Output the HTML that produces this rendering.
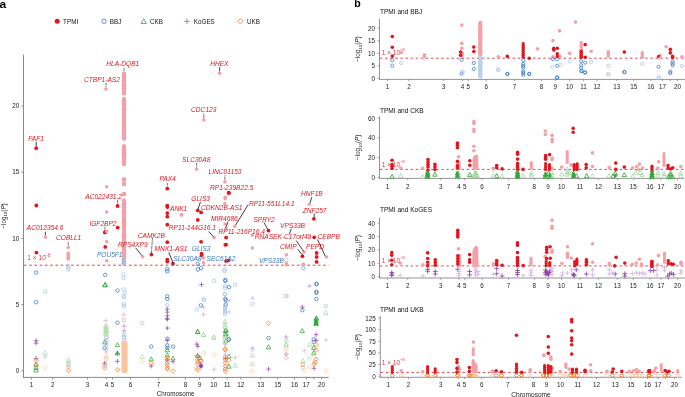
<!DOCTYPE html>
<html><head><meta charset="utf-8"><style>
html,body{margin:0;padding:0;background:#fff;width:685px;height:397px;overflow:hidden}
svg{display:block;will-change:transform;filter:blur(0.3px)}
text{font-family:"Liberation Sans",sans-serif}
</style></head><body>
<svg width="685" height="397" viewBox="0 0 685 397" font-family="Liberation Sans, sans-serif">
<rect width="685" height="397" fill="#fff"/>
<text x="0" y="7.7" font-size="10.9" font-weight="bold" fill="#000" transform="translate(-0.6,0) scale(1.1,1)">a</text>
<circle cx="57.2" cy="21.3" r="2.5" fill="#e3141c"/>
<text x="63.1" y="23.6" font-size="6.3" fill="#111" text-anchor="start">TPMI</text>
<circle cx="104.0" cy="21.3" r="2.2" fill="none" stroke="#3a78c2" stroke-width="0.8"/>
<text x="109.8" y="23.6" font-size="6.3" fill="#111" text-anchor="start">BBJ</text>
<path d="M143.7 18.7L146.3 23.5L141.1 23.5Z" fill="none" stroke="#34a33a" stroke-width="0.8" stroke-linejoin="round"/>
<text x="150" y="23.6" font-size="6.3" fill="#111" text-anchor="start">CKB</text>
<path d="M184.1 21.3H189.7M186.9 18.5V24.1" stroke="#a35cc0" stroke-width="0.8"/>
<text x="193.8" y="23.6" font-size="6.3" fill="#111" text-anchor="start">KoGES</text>
<path d="M240.4 18.7L243.0 21.3L240.4 23.9L237.8 21.3Z" fill="none" stroke="#f0782a" stroke-width="0.8" stroke-linejoin="round"/>
<text x="247" y="23.6" font-size="6.3" fill="#111" text-anchor="start">UKB</text>
<line x1="23.5" y1="54.6" x2="23.5" y2="377.8" stroke="#7a7a7a" stroke-width="0.9"/>
<line x1="23.1" y1="377.4" x2="328.7" y2="377.4" stroke="#7a7a7a" stroke-width="0.9"/>
<line x1="21.3" y1="370.8" x2="23.5" y2="370.8" stroke="#7a7a7a" stroke-width="0.8"/>
<text x="19.3" y="373.0" font-size="6.3" fill="#1e1e1e" text-anchor="end">0</text>
<line x1="21.3" y1="304.6" x2="23.5" y2="304.6" stroke="#7a7a7a" stroke-width="0.8"/>
<text x="19.3" y="306.8" font-size="6.3" fill="#1e1e1e" text-anchor="end">5</text>
<line x1="21.3" y1="238.4" x2="23.5" y2="238.4" stroke="#7a7a7a" stroke-width="0.8"/>
<text x="19.3" y="240.6" font-size="6.3" fill="#1e1e1e" text-anchor="end">10</text>
<line x1="21.3" y1="172.20000000000002" x2="23.5" y2="172.20000000000002" stroke="#7a7a7a" stroke-width="0.8"/>
<text x="19.3" y="174.4" font-size="6.3" fill="#1e1e1e" text-anchor="end">15</text>
<line x1="21.3" y1="106.0" x2="23.5" y2="106.0" stroke="#7a7a7a" stroke-width="0.8"/>
<text x="19.3" y="108.2" font-size="6.3" fill="#1e1e1e" text-anchor="end">20</text>
<line x1="31.4" y1="377.4" x2="31.4" y2="379.5" stroke="#7a7a7a" stroke-width="0.8"/>
<text x="31.4" y="386.8" font-size="6.3" fill="#1e1e1e" text-anchor="middle">1</text>
<line x1="52.7" y1="377.4" x2="52.7" y2="379.5" stroke="#7a7a7a" stroke-width="0.8"/>
<text x="52.7" y="386.8" font-size="6.3" fill="#1e1e1e" text-anchor="middle">2</text>
<line x1="87.5" y1="377.4" x2="87.5" y2="379.5" stroke="#7a7a7a" stroke-width="0.8"/>
<text x="87.5" y="386.8" font-size="6.3" fill="#1e1e1e" text-anchor="middle">3</text>
<line x1="106.4" y1="377.4" x2="106.4" y2="379.5" stroke="#7a7a7a" stroke-width="0.8"/>
<text x="106.4" y="386.8" font-size="6.3" fill="#1e1e1e" text-anchor="middle">4</text>
<line x1="112.5" y1="377.4" x2="112.5" y2="379.5" stroke="#7a7a7a" stroke-width="0.8"/>
<text x="112.5" y="386.8" font-size="6.3" fill="#1e1e1e" text-anchor="middle">5</text>
<line x1="130.5" y1="377.4" x2="130.5" y2="379.5" stroke="#7a7a7a" stroke-width="0.8"/>
<text x="130.5" y="386.8" font-size="6.3" fill="#1e1e1e" text-anchor="middle">6</text>
<line x1="158.4" y1="377.4" x2="158.4" y2="379.5" stroke="#7a7a7a" stroke-width="0.8"/>
<text x="158.4" y="386.8" font-size="6.3" fill="#1e1e1e" text-anchor="middle">7</text>
<line x1="185.4" y1="377.4" x2="185.4" y2="379.5" stroke="#7a7a7a" stroke-width="0.8"/>
<text x="185.4" y="386.8" font-size="6.3" fill="#1e1e1e" text-anchor="middle">8</text>
<line x1="199.5" y1="377.4" x2="199.5" y2="379.5" stroke="#7a7a7a" stroke-width="0.8"/>
<text x="199.5" y="386.8" font-size="6.3" fill="#1e1e1e" text-anchor="middle">9</text>
<line x1="213.8" y1="377.4" x2="213.8" y2="379.5" stroke="#7a7a7a" stroke-width="0.8"/>
<text x="213.8" y="386.8" font-size="6.3" fill="#1e1e1e" text-anchor="middle">10</text>
<line x1="227.2" y1="377.4" x2="227.2" y2="379.5" stroke="#7a7a7a" stroke-width="0.8"/>
<text x="227.2" y="386.8" font-size="6.3" fill="#1e1e1e" text-anchor="middle">11</text>
<line x1="240.8" y1="377.4" x2="240.8" y2="379.5" stroke="#7a7a7a" stroke-width="0.8"/>
<text x="240.8" y="386.8" font-size="6.3" fill="#1e1e1e" text-anchor="middle">12</text>
<line x1="260.8" y1="377.4" x2="260.8" y2="379.5" stroke="#7a7a7a" stroke-width="0.8"/>
<text x="260.8" y="386.8" font-size="6.3" fill="#1e1e1e" text-anchor="middle">13</text>
<line x1="277.7" y1="377.4" x2="277.7" y2="379.5" stroke="#7a7a7a" stroke-width="0.8"/>
<text x="277.7" y="386.8" font-size="6.3" fill="#1e1e1e" text-anchor="middle">15</text>
<line x1="294.6" y1="377.4" x2="294.6" y2="379.5" stroke="#7a7a7a" stroke-width="0.8"/>
<text x="294.6" y="386.8" font-size="6.3" fill="#1e1e1e" text-anchor="middle">16</text>
<line x1="306.3" y1="377.4" x2="306.3" y2="379.5" stroke="#7a7a7a" stroke-width="0.8"/>
<text x="306.3" y="386.8" font-size="6.3" fill="#1e1e1e" text-anchor="middle">17</text>
<line x1="313.9" y1="377.4" x2="313.9" y2="379.5" stroke="#7a7a7a" stroke-width="0.8"/>
<line x1="321.6" y1="377.4" x2="321.6" y2="379.5" stroke="#7a7a7a" stroke-width="0.8"/>
<text x="321.6" y="386.8" font-size="6.3" fill="#1e1e1e" text-anchor="middle">20</text>
<text x="175.6" y="396.2" font-size="6.3" fill="#1e1e1e" text-anchor="middle">Chromosome</text>
<text x="5.8" y="216" font-size="6.3" fill="#1e1e1e" text-anchor="middle" transform="rotate(-90 5.8 216)">−log<tspan font-size="4.4" dy="1.6">10</tspan><tspan dy="-1.6">(</tspan><tspan font-style="italic">P</tspan>)</text>
<line x1="23.9" y1="265.2" x2="328.9" y2="265.2" stroke="#ea3b43" stroke-width="1.0" stroke-dasharray="2.6 2.65"/>
<text x="27.3" y="260.4" font-size="6.6" fill="#e8404a" text-anchor="start">1 × 10</text>
<text x="45.3" y="256.6" font-size="4.5" fill="#e8404a" text-anchor="start">−8</text>
<rect x="122.15" y="73.70" width="3.70" height="19.70" fill="#f3a0a6"/>
<circle cx="124.00" cy="73.70" r="2.2" fill="#f3a0a6"/>
<circle cx="124.00" cy="75.34" r="2.2" fill="#f3a0a6"/>
<circle cx="124.00" cy="76.98" r="2.2" fill="#f3a0a6"/>
<circle cx="124.00" cy="78.62" r="2.2" fill="#f3a0a6"/>
<circle cx="124.00" cy="80.27" r="2.2" fill="#f3a0a6"/>
<circle cx="124.00" cy="81.91" r="2.2" fill="#f3a0a6"/>
<circle cx="124.00" cy="83.55" r="2.2" fill="#f3a0a6"/>
<circle cx="124.00" cy="85.19" r="2.2" fill="#f3a0a6"/>
<circle cx="124.00" cy="86.83" r="2.2" fill="#f3a0a6"/>
<circle cx="124.00" cy="88.48" r="2.2" fill="#f3a0a6"/>
<circle cx="124.00" cy="90.12" r="2.2" fill="#f3a0a6"/>
<circle cx="124.00" cy="91.76" r="2.2" fill="#f3a0a6"/>
<circle cx="124.00" cy="93.40" r="2.2" fill="#f3a0a6"/>
<rect x="122.15" y="99.00" width="3.70" height="39.60" fill="#f3a0a6"/>
<circle cx="124.00" cy="99.00" r="2.2" fill="#f3a0a6"/>
<circle cx="124.00" cy="100.72" r="2.2" fill="#f3a0a6"/>
<circle cx="124.00" cy="102.44" r="2.2" fill="#f3a0a6"/>
<circle cx="124.00" cy="104.17" r="2.2" fill="#f3a0a6"/>
<circle cx="124.00" cy="105.89" r="2.2" fill="#f3a0a6"/>
<circle cx="124.00" cy="107.61" r="2.2" fill="#f3a0a6"/>
<circle cx="124.00" cy="109.33" r="2.2" fill="#f3a0a6"/>
<circle cx="124.00" cy="111.05" r="2.2" fill="#f3a0a6"/>
<circle cx="124.00" cy="112.77" r="2.2" fill="#f3a0a6"/>
<circle cx="124.00" cy="114.50" r="2.2" fill="#f3a0a6"/>
<circle cx="124.00" cy="116.22" r="2.2" fill="#f3a0a6"/>
<circle cx="124.00" cy="117.94" r="2.2" fill="#f3a0a6"/>
<circle cx="124.00" cy="119.66" r="2.2" fill="#f3a0a6"/>
<circle cx="124.00" cy="121.38" r="2.2" fill="#f3a0a6"/>
<circle cx="124.00" cy="123.10" r="2.2" fill="#f3a0a6"/>
<circle cx="124.00" cy="124.83" r="2.2" fill="#f3a0a6"/>
<circle cx="124.00" cy="126.55" r="2.2" fill="#f3a0a6"/>
<circle cx="124.00" cy="128.27" r="2.2" fill="#f3a0a6"/>
<circle cx="124.00" cy="129.99" r="2.2" fill="#f3a0a6"/>
<circle cx="124.00" cy="131.71" r="2.2" fill="#f3a0a6"/>
<circle cx="124.00" cy="133.43" r="2.2" fill="#f3a0a6"/>
<circle cx="124.00" cy="135.16" r="2.2" fill="#f3a0a6"/>
<circle cx="124.00" cy="136.88" r="2.2" fill="#f3a0a6"/>
<circle cx="124.00" cy="138.60" r="2.2" fill="#f3a0a6"/>
<rect x="122.15" y="146.10" width="3.70" height="17.90" fill="#f3a0a6"/>
<circle cx="124.00" cy="146.10" r="2.2" fill="#f3a0a6"/>
<circle cx="124.00" cy="147.73" r="2.2" fill="#f3a0a6"/>
<circle cx="124.00" cy="149.35" r="2.2" fill="#f3a0a6"/>
<circle cx="124.00" cy="150.98" r="2.2" fill="#f3a0a6"/>
<circle cx="124.00" cy="152.61" r="2.2" fill="#f3a0a6"/>
<circle cx="124.00" cy="154.24" r="2.2" fill="#f3a0a6"/>
<circle cx="124.00" cy="155.86" r="2.2" fill="#f3a0a6"/>
<circle cx="124.00" cy="157.49" r="2.2" fill="#f3a0a6"/>
<circle cx="124.00" cy="159.12" r="2.2" fill="#f3a0a6"/>
<circle cx="124.00" cy="160.75" r="2.2" fill="#f3a0a6"/>
<circle cx="124.00" cy="162.37" r="2.2" fill="#f3a0a6"/>
<circle cx="124.00" cy="164.00" r="2.2" fill="#f3a0a6"/>
<rect x="122.15" y="179.50" width="3.70" height="0.00" fill="#f3a0a6"/>
<circle cx="124.00" cy="179.50" r="2.2" fill="#f3a0a6"/>
<circle cx="124.00" cy="179.50" r="2.2" fill="#f3a0a6"/>
<rect x="122.15" y="184.00" width="3.70" height="0.00" fill="#f3a0a6"/>
<circle cx="124.00" cy="184.00" r="2.2" fill="#f3a0a6"/>
<circle cx="124.00" cy="184.00" r="2.2" fill="#f3a0a6"/>
<rect x="122.15" y="194.00" width="3.70" height="0.00" fill="#f3a0a6"/>
<circle cx="124.00" cy="194.00" r="2.2" fill="#f3a0a6"/>
<circle cx="124.00" cy="194.00" r="2.2" fill="#f3a0a6"/>
<rect x="122.15" y="200.40" width="3.70" height="63.10" fill="#f3a0a6"/>
<circle cx="124.00" cy="200.40" r="2.2" fill="#f3a0a6"/>
<circle cx="124.00" cy="202.11" r="2.2" fill="#f3a0a6"/>
<circle cx="124.00" cy="203.81" r="2.2" fill="#f3a0a6"/>
<circle cx="124.00" cy="205.52" r="2.2" fill="#f3a0a6"/>
<circle cx="124.00" cy="207.22" r="2.2" fill="#f3a0a6"/>
<circle cx="124.00" cy="208.93" r="2.2" fill="#f3a0a6"/>
<circle cx="124.00" cy="210.63" r="2.2" fill="#f3a0a6"/>
<circle cx="124.00" cy="212.34" r="2.2" fill="#f3a0a6"/>
<circle cx="124.00" cy="214.04" r="2.2" fill="#f3a0a6"/>
<circle cx="124.00" cy="215.75" r="2.2" fill="#f3a0a6"/>
<circle cx="124.00" cy="217.45" r="2.2" fill="#f3a0a6"/>
<circle cx="124.00" cy="219.16" r="2.2" fill="#f3a0a6"/>
<circle cx="124.00" cy="220.86" r="2.2" fill="#f3a0a6"/>
<circle cx="124.00" cy="222.57" r="2.2" fill="#f3a0a6"/>
<circle cx="124.00" cy="224.28" r="2.2" fill="#f3a0a6"/>
<circle cx="124.00" cy="225.98" r="2.2" fill="#f3a0a6"/>
<circle cx="124.00" cy="227.69" r="2.2" fill="#f3a0a6"/>
<circle cx="124.00" cy="229.39" r="2.2" fill="#f3a0a6"/>
<circle cx="124.00" cy="231.10" r="2.2" fill="#f3a0a6"/>
<circle cx="124.00" cy="232.80" r="2.2" fill="#f3a0a6"/>
<circle cx="124.00" cy="234.51" r="2.2" fill="#f3a0a6"/>
<circle cx="124.00" cy="236.21" r="2.2" fill="#f3a0a6"/>
<circle cx="124.00" cy="237.92" r="2.2" fill="#f3a0a6"/>
<circle cx="124.00" cy="239.62" r="2.2" fill="#f3a0a6"/>
<circle cx="124.00" cy="241.33" r="2.2" fill="#f3a0a6"/>
<circle cx="124.00" cy="243.04" r="2.2" fill="#f3a0a6"/>
<circle cx="124.00" cy="244.74" r="2.2" fill="#f3a0a6"/>
<circle cx="124.00" cy="246.45" r="2.2" fill="#f3a0a6"/>
<circle cx="124.00" cy="248.15" r="2.2" fill="#f3a0a6"/>
<circle cx="124.00" cy="249.86" r="2.2" fill="#f3a0a6"/>
<circle cx="124.00" cy="251.56" r="2.2" fill="#f3a0a6"/>
<circle cx="124.00" cy="253.27" r="2.2" fill="#f3a0a6"/>
<circle cx="124.00" cy="254.97" r="2.2" fill="#f3a0a6"/>
<circle cx="124.00" cy="256.68" r="2.2" fill="#f3a0a6"/>
<circle cx="124.00" cy="258.38" r="2.2" fill="#f3a0a6"/>
<circle cx="124.00" cy="260.09" r="2.2" fill="#f3a0a6"/>
<circle cx="124.00" cy="261.79" r="2.2" fill="#f3a0a6"/>
<circle cx="124.00" cy="263.50" r="2.2" fill="#f3a0a6"/>
<rect x="66.85" y="253.40" width="2.90" height="5.60" fill="#f3a0a6"/>
<circle cx="68.30" cy="253.40" r="1.8" fill="#f3a0a6"/>
<circle cx="68.30" cy="255.27" r="1.8" fill="#f3a0a6"/>
<circle cx="68.30" cy="257.13" r="1.8" fill="#f3a0a6"/>
<circle cx="68.30" cy="259.00" r="1.8" fill="#f3a0a6"/>
<circle cx="36.2" cy="148.2" r="1.9" fill="#e3141c"/>
<circle cx="36.3" cy="205.5" r="1.9" fill="#e3141c"/>
<circle cx="36.4" cy="252.6" r="1.9" fill="#e3141c"/>
<circle cx="117.6" cy="206.0" r="1.9" fill="#e3141c"/>
<circle cx="117.7" cy="227.6" r="1.9" fill="#e3141c"/>
<circle cx="104.9" cy="232.4" r="1.9" fill="#e3141c"/>
<circle cx="105.2" cy="232.3" r="1.9" fill="#e3141c"/>
<circle cx="105.2" cy="246.9" r="1.9" fill="#e3141c"/>
<circle cx="167.3" cy="188.7" r="1.9" fill="#e3141c"/>
<circle cx="167.3" cy="205.6" r="1.9" fill="#e3141c"/>
<circle cx="167.3" cy="207.0" r="1.9" fill="#e3141c"/>
<circle cx="167.3" cy="213.1" r="1.9" fill="#e3141c"/>
<circle cx="167.3" cy="216.7" r="1.9" fill="#e3141c"/>
<circle cx="167.3" cy="224.7" r="1.9" fill="#e3141c"/>
<circle cx="167.3" cy="242.2" r="1.9" fill="#e3141c"/>
<circle cx="167.3" cy="259.6" r="1.9" fill="#e3141c"/>
<circle cx="167.3" cy="261.6" r="1.9" fill="#e3141c"/>
<circle cx="151.4" cy="254.6" r="1.9" fill="#e3141c"/>
<circle cx="173.0" cy="263.6" r="1.9" fill="#e3141c"/>
<circle cx="197.8" cy="210.4" r="1.9" fill="#e3141c"/>
<circle cx="201.1" cy="212.4" r="1.9" fill="#e3141c"/>
<circle cx="197.8" cy="219.9" r="1.9" fill="#e3141c"/>
<circle cx="201.1" cy="241.8" r="1.9" fill="#e3141c"/>
<circle cx="201.6" cy="253.6" r="1.9" fill="#e3141c"/>
<circle cx="201.6" cy="255.3" r="1.9" fill="#e3141c"/>
<circle cx="228.6" cy="192.7" r="1.9" fill="#e3141c"/>
<circle cx="229.0" cy="193.0" r="1.9" fill="#e3141c"/>
<circle cx="226.1" cy="237.6" r="1.9" fill="#e3141c"/>
<circle cx="226.1" cy="244.6" r="1.9" fill="#e3141c"/>
<circle cx="225.3" cy="244.8" r="1.9" fill="#e3141c"/>
<circle cx="226.1" cy="261.1" r="1.9" fill="#e3141c"/>
<circle cx="228.3" cy="260.4" r="1.9" fill="#e3141c"/>
<circle cx="268.5" cy="230.6" r="1.9" fill="#e3141c"/>
<circle cx="313.9" cy="218.8" r="1.9" fill="#e3141c"/>
<circle cx="314.2" cy="237.3" r="1.9" fill="#e3141c"/>
<circle cx="302.4" cy="256.2" r="1.9" fill="#e3141c"/>
<circle cx="316.6" cy="252.9" r="1.9" fill="#e3141c"/>
<circle cx="316.6" cy="257.0" r="1.9" fill="#e3141c"/>
<circle cx="316.6" cy="261.9" r="1.9" fill="#e3141c"/>
<circle cx="106.0" cy="89.0" r="1.8" fill="#f3a0a6"/>
<circle cx="219.6" cy="73.3" r="1.8" fill="#f3a0a6"/>
<circle cx="203.8" cy="119.9" r="1.8" fill="#f3a0a6"/>
<circle cx="196.6" cy="169.2" r="1.8" fill="#f3a0a6"/>
<circle cx="224.9" cy="181.9" r="1.8" fill="#f3a0a6"/>
<circle cx="225.2" cy="197.3" r="1.8" fill="#f3a0a6"/>
<circle cx="225.2" cy="198.6" r="1.8" fill="#f3a0a6"/>
<circle cx="224.8" cy="203.6" r="1.8" fill="#f3a0a6"/>
<circle cx="106.7" cy="186.8" r="1.8" fill="#f3a0a6"/>
<circle cx="106.7" cy="212.0" r="1.8" fill="#f3a0a6"/>
<circle cx="106.7" cy="231.6" r="1.8" fill="#f3a0a6"/>
<circle cx="106.7" cy="241.8" r="1.8" fill="#f3a0a6"/>
<circle cx="106.7" cy="260.7" r="1.8" fill="#f3a0a6"/>
<circle cx="45.4" cy="237.1" r="1.8" fill="#f3a0a6"/>
<circle cx="68.3" cy="247.4" r="1.8" fill="#f3a0a6"/>
<circle cx="181.6" cy="214.6" r="1.8" fill="#f3a0a6"/>
<circle cx="142.7" cy="256.8" r="1.8" fill="#f3a0a6"/>
<circle cx="214.0" cy="237.6" r="1.8" fill="#f3a0a6"/>
<circle cx="181.5" cy="214.9" r="1.8" fill="#f3a0a6"/>
<circle cx="225.0" cy="224.0" r="1.8" fill="#f3a0a6"/>
<circle cx="234.7" cy="226.2" r="1.8" fill="#f3a0a6"/>
<circle cx="226.1" cy="228.5" r="1.8" fill="#f3a0a6"/>
<circle cx="203.4" cy="258.1" r="1.8" fill="#f3a0a6"/>
<circle cx="203.4" cy="262.7" r="1.8" fill="#f3a0a6"/>
<circle cx="252.4" cy="235.3" r="1.8" fill="#f3a0a6"/>
<circle cx="252.4" cy="248.0" r="1.8" fill="#f3a0a6"/>
<circle cx="309.3" cy="204.2" r="1.8" fill="#f3a0a6"/>
<circle cx="304.0" cy="252.1" r="1.8" fill="#f3a0a6"/>
<circle cx="326.5" cy="257.0" r="1.8" fill="#f3a0a6"/>
<circle cx="286.4" cy="254.9" r="1.8" fill="#f3a0a6"/>
<circle cx="286.4" cy="263.5" r="1.8" fill="#f3a0a6"/>
<circle cx="286.4" cy="265.0" r="1.8" fill="#f3a0a6"/>
<circle cx="303.4" cy="264.4" r="1.8" fill="#f3a0a6"/>
<circle cx="303.1" cy="264.5" r="1.8" fill="#f3a0a6"/>
<text x="106.3" y="66.0" font-size="6.6" fill="#e3141c" text-anchor="start" font-style="italic">HLA-DQB1</text>
<text x="84.0" y="81.7" font-size="6.6" fill="#e3141c" text-anchor="start" font-style="italic">CTBP1-AS2</text>
<text x="210.2" y="65.8" font-size="6.6" fill="#e3141c" text-anchor="start" font-style="italic">HHEX</text>
<text x="191.1" y="112.0" font-size="6.6" fill="#e3141c" text-anchor="start" font-style="italic">CDC123</text>
<text x="28.3" y="141.2" font-size="6.6" fill="#e3141c" text-anchor="start" font-style="italic">FAF1</text>
<text x="182.1" y="161.9" font-size="6.6" fill="#e3141c" text-anchor="start" font-style="italic">SLC30A8</text>
<text x="208.6" y="174.4" font-size="6.6" fill="#e3141c" text-anchor="start" font-style="italic">LINC01153</text>
<text x="210.1" y="189.9" font-size="6.6" fill="#e3141c" text-anchor="start" font-style="italic">RP1-239B22.5</text>
<text x="159.4" y="181.4" font-size="6.6" fill="#e3141c" text-anchor="start" font-style="italic">PAX4</text>
<text x="85.3" y="198.7" font-size="6.6" fill="#e3141c" text-anchor="start" font-style="italic">AC022431.2</text>
<text x="170.0" y="210.8" font-size="6.6" fill="#e3141c" text-anchor="start" font-style="italic">ANK1</text>
<text x="191.3" y="200.8" font-size="6.6" fill="#e3141c" text-anchor="start" font-style="italic">GLIS3</text>
<text x="201.1" y="210.3" font-size="6.6" fill="#e3141c" text-anchor="start" font-style="italic">CDKN2B-AS1</text>
<text x="301.1" y="196.1" font-size="6.6" fill="#e3141c" text-anchor="start" font-style="italic">HNF1B</text>
<text x="302.7" y="212.5" font-size="6.6" fill="#e3141c" text-anchor="start" font-style="italic">ZNF257</text>
<text x="211.0" y="220.6" font-size="6.6" fill="#e3141c" text-anchor="start" font-style="italic">MIR4686</text>
<text x="253.4" y="222.0" font-size="6.6" fill="#e3141c" text-anchor="start" font-style="italic">SPRY2</text>
<text x="89.4" y="225.5" font-size="6.6" fill="#e3141c" text-anchor="start" font-style="italic">IGF2BP2</text>
<text x="26.8" y="230.4" font-size="6.6" fill="#e3141c" text-anchor="start" font-style="italic">AC012354.6</text>
<text x="168.8" y="230.3" font-size="6.6" fill="#e3141c" text-anchor="start" font-style="italic">RP11-144G16.1</text>
<text x="218.5" y="233.7" font-size="6.6" fill="#e3141c" text-anchor="start" font-style="italic">RP11-216P16.4</text>
<text x="280.1" y="228.0" font-size="6.6" fill="#e3141c" text-anchor="start" font-style="italic">VPS33B</text>
<text x="137.8" y="237.6" font-size="6.6" fill="#e3141c" text-anchor="start" font-style="italic">CAMK2B</text>
<text x="56.0" y="240.0" font-size="6.6" fill="#e3141c" text-anchor="start" font-style="italic">COBLL1</text>
<text x="254.8" y="239.3" font-size="6.6" fill="#e3141c" text-anchor="start" font-style="italic">RNASEK-C17orf49</text>
<text x="317.5" y="238.7" font-size="6.6" fill="#e3141c" text-anchor="start" font-style="italic">CEBPB</text>
<text x="118.0" y="246.6" font-size="6.6" fill="#e3141c" text-anchor="start" font-style="italic">RPS4XP9</text>
<text x="154.5" y="251.2" font-size="6.6" fill="#e3141c" text-anchor="start" font-style="italic">MNX1-AS1</text>
<text x="280.1" y="248.6" font-size="6.6" fill="#e3141c" text-anchor="start" font-style="italic">CMIP</text>
<text x="306.0" y="249.4" font-size="6.6" fill="#e3141c" text-anchor="start" font-style="italic">PEPD</text>
<text x="248.9" y="206.1" font-size="6.6" fill="#e3141c" text-anchor="start" font-style="italic">RP11-551L14.1</text>
<text x="96.9" y="256.7" font-size="6.6" fill="#3a78c2" text-anchor="start" font-style="italic">POU5F1</text>
<text x="191.8" y="251.0" font-size="6.6" fill="#3a78c2" text-anchor="start" font-style="italic">GLIS3</text>
<text x="173.3" y="261.1" font-size="6.6" fill="#3a78c2" text-anchor="start" font-style="italic">SLC30A8</text>
<text x="206.5" y="261.1" font-size="6.6" fill="#3a78c2" text-anchor="start" font-style="italic">SEC61A2</text>
<text x="258.9" y="262.7" font-size="6.6" fill="#3a78c2" text-anchor="start" font-style="italic">VPS33B</text>
<line x1="124" y1="67.8" x2="124" y2="71.2" stroke="#111" stroke-width="0.8" stroke-dasharray="0.8 0.5"/>
<line x1="106" y1="83" x2="106" y2="87.1" stroke="#111" stroke-width="0.8" stroke-dasharray="0.8 0.5"/>
<line x1="219.6" y1="67.1" x2="219.6" y2="71.3" stroke="#111" stroke-width="0.8"/>
<line x1="203.8" y1="113.5" x2="203.8" y2="118" stroke="#111" stroke-width="0.8" stroke-dasharray="0.8 0.5"/>
<line x1="36.2" y1="141.9" x2="36.2" y2="146.3" stroke="#111" stroke-width="0.8"/>
<line x1="196.6" y1="163" x2="196.6" y2="167.3" stroke="#111" stroke-width="0.8" stroke-dasharray="0.8 0.5"/>
<line x1="224.9" y1="175.5" x2="224.9" y2="180" stroke="#111" stroke-width="0.8" stroke-dasharray="0.8 0.5"/>
<line x1="167.3" y1="183" x2="167.3" y2="186.8" stroke="#111" stroke-width="0.8" stroke-dasharray="0.8 0.5"/>
<line x1="117.6" y1="199.9" x2="117.6" y2="204.1" stroke="#111" stroke-width="0.8" stroke-dasharray="0.8 0.5"/>
<line x1="104.9" y1="227.1" x2="104.9" y2="230.5" stroke="#111" stroke-width="0.8" stroke-dasharray="0.8 0.5"/>
<line x1="45.4" y1="231.8" x2="45.4" y2="235.2" stroke="#111" stroke-width="0.8"/>
<line x1="68.3" y1="241.6" x2="68.3" y2="245.5" stroke="#111" stroke-width="0.8" stroke-dasharray="0.8 0.5"/>
<line x1="200.4" y1="202.1" x2="198.1" y2="208.9" stroke="#111" stroke-width="0.8"/>
<line x1="208.7" y1="231.5" x2="213.5" y2="236.8" stroke="#111" stroke-width="0.8"/>
<line x1="228" y1="221.7" x2="225.8" y2="227.8" stroke="#111" stroke-width="0.8"/>
<line x1="248.1" y1="204.8" x2="235.7" y2="225" stroke="#111" stroke-width="0.8"/>
<line x1="264" y1="222.5" x2="267.8" y2="229.6" stroke="#111" stroke-width="0.8"/>
<line x1="311.7" y1="197.2" x2="310.1" y2="202.9" stroke="#111" stroke-width="0.8"/>
<line x1="314.2" y1="213.6" x2="314.2" y2="217.3" stroke="#111" stroke-width="0.8"/>
<line x1="291.3" y1="228.8" x2="289.3" y2="234" stroke="#111" stroke-width="0.8"/>
<line x1="297.8" y1="249.3" x2="301.9" y2="254.5" stroke="#111" stroke-width="0.8"/>
<line x1="296.2" y1="240.6" x2="303.6" y2="251.3" stroke="#111" stroke-width="0.8"/>
<line x1="317.5" y1="239.5" x2="325.3" y2="256.2" stroke="#111" stroke-width="0.8"/>
<line x1="152.5" y1="238" x2="151.4" y2="253" stroke="#111" stroke-width="0.8" stroke-dasharray="0.8 0.5"/>
<line x1="135.6" y1="247.8" x2="141.9" y2="255.6" stroke="#111" stroke-width="0.8"/>
<line x1="168.8" y1="252.3" x2="173" y2="262.9" stroke="#111" stroke-width="0.8"/>
<circle cx="36.2" cy="272.5" r="1.75" fill="none" stroke="#3a78c2" stroke-width="0.75"/>
<circle cx="36.2" cy="302.2" r="1.75" fill="none" stroke="#3a78c2" stroke-width="0.75"/>
<circle cx="105.2" cy="274.9" r="1.75" fill="none" stroke="#3a78c2" stroke-width="0.75"/>
<circle cx="117.5" cy="290.6" r="1.75" fill="none" stroke="#3a78c2" stroke-width="0.75"/>
<circle cx="117.5" cy="322.7" r="1.75" fill="none" stroke="#3a78c2" stroke-width="0.75"/>
<circle cx="104.7" cy="347.9" r="1.75" fill="none" stroke="#3a78c2" stroke-width="0.75"/>
<circle cx="151.2" cy="346.6" r="1.75" fill="none" stroke="#3a78c2" stroke-width="0.75"/>
<circle cx="167.3" cy="269.1" r="1.75" fill="none" stroke="#3a78c2" stroke-width="0.75"/>
<circle cx="167.3" cy="271.3" r="1.75" fill="none" stroke="#3a78c2" stroke-width="0.75"/>
<circle cx="167.3" cy="296.3" r="1.75" fill="none" stroke="#3a78c2" stroke-width="0.75"/>
<circle cx="167.3" cy="299.0" r="1.75" fill="none" stroke="#3a78c2" stroke-width="0.75"/>
<circle cx="167.3" cy="338.8" r="1.75" fill="none" stroke="#3a78c2" stroke-width="0.75"/>
<circle cx="167.3" cy="345.3" r="1.75" fill="none" stroke="#3a78c2" stroke-width="0.75"/>
<circle cx="167.3" cy="347.8" r="1.75" fill="none" stroke="#3a78c2" stroke-width="0.75"/>
<circle cx="173.0" cy="346.6" r="1.75" fill="none" stroke="#3a78c2" stroke-width="0.75"/>
<circle cx="197.8" cy="263.9" r="1.75" fill="none" stroke="#3a78c2" stroke-width="0.75"/>
<circle cx="201.1" cy="268.0" r="1.75" fill="none" stroke="#3a78c2" stroke-width="0.75"/>
<circle cx="197.8" cy="269.5" r="1.75" fill="none" stroke="#3a78c2" stroke-width="0.75"/>
<circle cx="225.3" cy="280.0" r="1.75" fill="none" stroke="#3a78c2" stroke-width="0.75"/>
<circle cx="225.3" cy="280.8" r="1.75" fill="none" stroke="#3a78c2" stroke-width="0.75"/>
<circle cx="229.1" cy="287.1" r="1.75" fill="none" stroke="#3a78c2" stroke-width="0.75"/>
<circle cx="225.3" cy="298.9" r="1.75" fill="none" stroke="#3a78c2" stroke-width="0.75"/>
<circle cx="225.8" cy="300.3" r="1.75" fill="none" stroke="#3a78c2" stroke-width="0.75"/>
<circle cx="225.8" cy="304.4" r="1.75" fill="none" stroke="#3a78c2" stroke-width="0.75"/>
<circle cx="200.9" cy="305.4" r="1.75" fill="none" stroke="#3a78c2" stroke-width="0.75"/>
<circle cx="228.8" cy="339.5" r="1.75" fill="none" stroke="#3a78c2" stroke-width="0.75"/>
<circle cx="228.9" cy="339.5" r="1.75" fill="none" stroke="#3a78c2" stroke-width="0.75"/>
<circle cx="268.5" cy="338.1" r="1.75" fill="none" stroke="#3a78c2" stroke-width="0.75"/>
<circle cx="316.4" cy="284.2" r="1.75" fill="none" stroke="#3a78c2" stroke-width="0.75"/>
<circle cx="316.4" cy="291.7" r="1.75" fill="none" stroke="#3a78c2" stroke-width="0.75"/>
<circle cx="316.4" cy="292.9" r="1.75" fill="none" stroke="#3a78c2" stroke-width="0.75"/>
<circle cx="316.4" cy="299.0" r="1.75" fill="none" stroke="#3a78c2" stroke-width="0.75"/>
<circle cx="302.4" cy="310.2" r="1.75" fill="none" stroke="#3a78c2" stroke-width="0.75"/>
<circle cx="313.7" cy="339.3" r="1.75" fill="none" stroke="#3a78c2" stroke-width="0.75"/>
<circle cx="313.7" cy="342.0" r="1.75" fill="none" stroke="#3a78c2" stroke-width="0.75"/>
<circle cx="316.6" cy="283.7" r="1.75" fill="none" stroke="#3a78c2" stroke-width="0.75"/>
<circle cx="45.2" cy="291.6" r="1.75" fill="none" stroke="#a6c4e6" stroke-width="0.75"/>
<circle cx="68.3" cy="265.8" r="1.75" fill="none" stroke="#a6c4e6" stroke-width="0.75"/>
<circle cx="68.3" cy="267.8" r="1.75" fill="none" stroke="#a6c4e6" stroke-width="0.75"/>
<circle cx="68.3" cy="269.6" r="1.75" fill="none" stroke="#a6c4e6" stroke-width="0.75"/>
<circle cx="123.6" cy="259.5" r="1.75" fill="none" stroke="#a6c4e6" stroke-width="0.75"/>
<circle cx="123.6" cy="261.5" r="1.75" fill="none" stroke="#a6c4e6" stroke-width="0.75"/>
<circle cx="123.6" cy="263.3" r="1.75" fill="none" stroke="#a6c4e6" stroke-width="0.75"/>
<circle cx="123.6" cy="274.6" r="1.75" fill="none" stroke="#a6c4e6" stroke-width="0.75"/>
<circle cx="123.6" cy="278.0" r="1.75" fill="none" stroke="#a6c4e6" stroke-width="0.75"/>
<circle cx="123.6" cy="289.4" r="1.75" fill="none" stroke="#a6c4e6" stroke-width="0.75"/>
<circle cx="125.0" cy="292.5" r="1.75" fill="none" stroke="#a6c4e6" stroke-width="0.75"/>
<circle cx="123.8" cy="295.9" r="1.75" fill="none" stroke="#a6c4e6" stroke-width="0.75"/>
<circle cx="123.8" cy="297.4" r="1.75" fill="none" stroke="#a6c4e6" stroke-width="0.75"/>
<circle cx="123.8" cy="304.2" r="1.75" fill="none" stroke="#a6c4e6" stroke-width="0.75"/>
<circle cx="123.8" cy="306.0" r="1.75" fill="none" stroke="#a6c4e6" stroke-width="0.75"/>
<circle cx="123.8" cy="320.0" r="1.75" fill="none" stroke="#a6c4e6" stroke-width="0.75"/>
<circle cx="123.8" cy="336.6" r="1.75" fill="none" stroke="#a6c4e6" stroke-width="0.75"/>
<circle cx="124.3" cy="334.7" r="1.75" fill="none" stroke="#a6c4e6" stroke-width="0.75"/>
<circle cx="124.3" cy="337.5" r="1.75" fill="none" stroke="#a6c4e6" stroke-width="0.75"/>
<circle cx="124.3" cy="340.2" r="1.75" fill="none" stroke="#a6c4e6" stroke-width="0.75"/>
<circle cx="106.3" cy="337.5" r="1.75" fill="none" stroke="#a6c4e6" stroke-width="0.75"/>
<circle cx="106.3" cy="340.2" r="1.75" fill="none" stroke="#a6c4e6" stroke-width="0.75"/>
<circle cx="106.3" cy="343.0" r="1.75" fill="none" stroke="#a6c4e6" stroke-width="0.75"/>
<circle cx="106.3" cy="346.0" r="1.75" fill="none" stroke="#a6c4e6" stroke-width="0.75"/>
<circle cx="106.3" cy="349.0" r="1.75" fill="none" stroke="#a6c4e6" stroke-width="0.75"/>
<circle cx="106.7" cy="337.4" r="1.75" fill="none" stroke="#a6c4e6" stroke-width="0.75"/>
<circle cx="142.2" cy="323.2" r="1.75" fill="none" stroke="#a6c4e6" stroke-width="0.75"/>
<circle cx="167.3" cy="305.3" r="1.75" fill="none" stroke="#a6c4e6" stroke-width="0.75"/>
<circle cx="224.6" cy="269.5" r="1.75" fill="none" stroke="#a6c4e6" stroke-width="0.75"/>
<circle cx="224.6" cy="271.0" r="1.75" fill="none" stroke="#a6c4e6" stroke-width="0.75"/>
<circle cx="214.0" cy="280.8" r="1.75" fill="none" stroke="#a6c4e6" stroke-width="0.75"/>
<circle cx="224.9" cy="286.1" r="1.75" fill="none" stroke="#a6c4e6" stroke-width="0.75"/>
<circle cx="224.9" cy="288.3" r="1.75" fill="none" stroke="#a6c4e6" stroke-width="0.75"/>
<circle cx="235.1" cy="284.6" r="1.75" fill="none" stroke="#a6c4e6" stroke-width="0.75"/>
<circle cx="224.9" cy="294.1" r="1.75" fill="none" stroke="#a6c4e6" stroke-width="0.75"/>
<circle cx="203.4" cy="298.9" r="1.75" fill="none" stroke="#a6c4e6" stroke-width="0.75"/>
<circle cx="203.9" cy="300.1" r="1.75" fill="none" stroke="#a6c4e6" stroke-width="0.75"/>
<circle cx="196.8" cy="309.3" r="1.75" fill="none" stroke="#a6c4e6" stroke-width="0.75"/>
<circle cx="225.0" cy="294.5" r="1.75" fill="none" stroke="#a6c4e6" stroke-width="0.75"/>
<circle cx="225.0" cy="306.0" r="1.75" fill="none" stroke="#a6c4e6" stroke-width="0.75"/>
<circle cx="225.0" cy="308.0" r="1.75" fill="none" stroke="#a6c4e6" stroke-width="0.75"/>
<circle cx="225.0" cy="310.0" r="1.75" fill="none" stroke="#a6c4e6" stroke-width="0.75"/>
<circle cx="225.0" cy="312.0" r="1.75" fill="none" stroke="#a6c4e6" stroke-width="0.75"/>
<circle cx="225.0" cy="314.2" r="1.75" fill="none" stroke="#a6c4e6" stroke-width="0.75"/>
<circle cx="252.4" cy="304.0" r="1.75" fill="none" stroke="#a6c4e6" stroke-width="0.75"/>
<circle cx="252.4" cy="349.5" r="1.75" fill="none" stroke="#a6c4e6" stroke-width="0.75"/>
<circle cx="286.3" cy="296.0" r="1.75" fill="none" stroke="#a6c4e6" stroke-width="0.75"/>
<circle cx="286.5" cy="296.0" r="1.75" fill="none" stroke="#a6c4e6" stroke-width="0.75"/>
<circle cx="303.1" cy="267.9" r="1.75" fill="none" stroke="#a6c4e6" stroke-width="0.75"/>
<circle cx="303.6" cy="268.5" r="1.75" fill="none" stroke="#a6c4e6" stroke-width="0.75"/>
<circle cx="286.4" cy="260.0" r="1.75" fill="none" stroke="#a6c4e6" stroke-width="0.75"/>
<circle cx="325.8" cy="306.1" r="1.75" fill="none" stroke="#a6c4e6" stroke-width="0.75"/>
<circle cx="303.0" cy="367.5" r="1.75" fill="none" stroke="#a6c4e6" stroke-width="0.75"/>
<path d="M36.1 362.2L38.3 366.3L33.9 366.3Z" fill="none" stroke="#34a33a" stroke-width="0.75" stroke-linejoin="round"/>
<path d="M36.1 365.3L38.3 369.4L33.9 369.4Z" fill="none" stroke="#34a33a" stroke-width="0.75" stroke-linejoin="round"/>
<path d="M36.1 367.9L38.3 372.0L33.9 372.0Z" fill="none" stroke="#34a33a" stroke-width="0.75" stroke-linejoin="round"/>
<path d="M105.2 282.2L107.4 286.3L103.0 286.3Z" fill="none" stroke="#34a33a" stroke-width="0.75" stroke-linejoin="round"/>
<path d="M104.9 282.8L107.1 286.9L102.7 286.9Z" fill="none" stroke="#34a33a" stroke-width="0.75" stroke-linejoin="round"/>
<path d="M104.7 339.8L106.9 343.9L102.5 343.9Z" fill="none" stroke="#34a33a" stroke-width="0.75" stroke-linejoin="round"/>
<path d="M117.4 342.6L119.6 346.7L115.2 346.7Z" fill="none" stroke="#34a33a" stroke-width="0.75" stroke-linejoin="round"/>
<path d="M117.4 350.9L119.6 355.0L115.2 355.0Z" fill="none" stroke="#34a33a" stroke-width="0.75" stroke-linejoin="round"/>
<path d="M151.2 356.8L153.4 360.9L149.0 360.9Z" fill="none" stroke="#34a33a" stroke-width="0.75" stroke-linejoin="round"/>
<path d="M167.3 347.7L169.5 351.8L165.1 351.8Z" fill="none" stroke="#34a33a" stroke-width="0.75" stroke-linejoin="round"/>
<path d="M167.3 352.7L169.5 356.8L165.1 356.8Z" fill="none" stroke="#34a33a" stroke-width="0.75" stroke-linejoin="round"/>
<path d="M173.0 355.9L175.2 360.0L170.8 360.0Z" fill="none" stroke="#34a33a" stroke-width="0.75" stroke-linejoin="round"/>
<path d="M197.8 329.5L200.0 333.6L195.6 333.6Z" fill="none" stroke="#34a33a" stroke-width="0.75" stroke-linejoin="round"/>
<path d="M197.6 329.4L199.8 333.5L195.4 333.5Z" fill="none" stroke="#34a33a" stroke-width="0.75" stroke-linejoin="round"/>
<path d="M226.0 327.5L228.2 331.6L223.8 331.6Z" fill="none" stroke="#34a33a" stroke-width="0.75" stroke-linejoin="round"/>
<path d="M226.0 332.1L228.2 336.2L223.8 336.2Z" fill="none" stroke="#34a33a" stroke-width="0.75" stroke-linejoin="round"/>
<path d="M226.0 338.1L228.2 342.2L223.8 342.2Z" fill="none" stroke="#34a33a" stroke-width="0.75" stroke-linejoin="round"/>
<path d="M225.4 328.5L227.6 332.6L223.2 332.6Z" fill="none" stroke="#34a33a" stroke-width="0.75" stroke-linejoin="round"/>
<path d="M225.4 331.5L227.6 335.6L223.2 335.6Z" fill="none" stroke="#34a33a" stroke-width="0.75" stroke-linejoin="round"/>
<path d="M228.9 354.0L231.1 358.1L226.7 358.1Z" fill="none" stroke="#34a33a" stroke-width="0.75" stroke-linejoin="round"/>
<path d="M228.9 364.1L231.1 368.2L226.7 368.2Z" fill="none" stroke="#34a33a" stroke-width="0.75" stroke-linejoin="round"/>
<path d="M268.5 344.7L270.7 348.8L266.3 348.8Z" fill="none" stroke="#34a33a" stroke-width="0.75" stroke-linejoin="round"/>
<path d="M302.2 328.6L304.4 332.7L300.0 332.7Z" fill="none" stroke="#34a33a" stroke-width="0.75" stroke-linejoin="round"/>
<path d="M313.7 345.3L315.9 349.4L311.5 349.4Z" fill="none" stroke="#34a33a" stroke-width="0.75" stroke-linejoin="round"/>
<path d="M313.7 350.7L315.9 354.8L311.5 354.8Z" fill="none" stroke="#34a33a" stroke-width="0.75" stroke-linejoin="round"/>
<path d="M316.1 316.6L318.3 320.7L313.9 320.7Z" fill="none" stroke="#34a33a" stroke-width="0.75" stroke-linejoin="round"/>
<path d="M316.1 318.5L318.3 322.6L313.9 322.6Z" fill="none" stroke="#34a33a" stroke-width="0.75" stroke-linejoin="round"/>
<path d="M316.1 320.5L318.3 324.6L313.9 324.6Z" fill="none" stroke="#34a33a" stroke-width="0.75" stroke-linejoin="round"/>
<path d="M316.1 321.5L318.3 325.6L313.9 325.6Z" fill="none" stroke="#34a33a" stroke-width="0.75" stroke-linejoin="round"/>
<path d="M316.4 315.7L318.6 319.8L314.2 319.8Z" fill="none" stroke="#34a33a" stroke-width="0.75" stroke-linejoin="round"/>
<path d="M197.6 353.5L199.8 357.6L195.4 357.6Z" fill="none" stroke="#34a33a" stroke-width="0.75" stroke-linejoin="round"/>
<path d="M200.0 355.5L202.2 359.6L197.8 359.6Z" fill="none" stroke="#34a33a" stroke-width="0.75" stroke-linejoin="round"/>
<path d="M45.2 350.6L47.4 354.7L43.0 354.7Z" fill="none" stroke="#a9daa8" stroke-width="0.75" stroke-linejoin="round"/>
<path d="M68.5 357.8L70.7 361.9L66.3 361.9Z" fill="none" stroke="#a9daa8" stroke-width="0.75" stroke-linejoin="round"/>
<path d="M68.5 360.0L70.7 364.1L66.3 364.1Z" fill="none" stroke="#a9daa8" stroke-width="0.75" stroke-linejoin="round"/>
<path d="M68.5 362.2L70.7 366.3L66.3 366.3Z" fill="none" stroke="#a9daa8" stroke-width="0.75" stroke-linejoin="round"/>
<path d="M106.3 324.6L108.5 328.7L104.1 328.7Z" fill="none" stroke="#a9daa8" stroke-width="0.75" stroke-linejoin="round"/>
<path d="M106.3 326.5L108.5 330.6L104.1 330.6Z" fill="none" stroke="#a9daa8" stroke-width="0.75" stroke-linejoin="round"/>
<path d="M106.3 328.5L108.5 332.6L104.1 332.6Z" fill="none" stroke="#a9daa8" stroke-width="0.75" stroke-linejoin="round"/>
<path d="M106.3 330.8L108.5 334.9L104.1 334.9Z" fill="none" stroke="#a9daa8" stroke-width="0.75" stroke-linejoin="round"/>
<path d="M105.7 323.5L107.9 327.6L103.5 327.6Z" fill="none" stroke="#a9daa8" stroke-width="0.75" stroke-linejoin="round"/>
<path d="M105.7 326.5L107.9 330.6L103.5 330.6Z" fill="none" stroke="#a9daa8" stroke-width="0.75" stroke-linejoin="round"/>
<path d="M105.7 329.0L107.9 333.1L103.5 333.1Z" fill="none" stroke="#a9daa8" stroke-width="0.75" stroke-linejoin="round"/>
<path d="M105.7 331.1L107.9 335.2L103.5 335.2Z" fill="none" stroke="#a9daa8" stroke-width="0.75" stroke-linejoin="round"/>
<path d="M142.2 354.3L144.4 358.4L140.0 358.4Z" fill="none" stroke="#a9daa8" stroke-width="0.75" stroke-linejoin="round"/>
<path d="M203.4 332.5L205.6 336.6L201.2 336.6Z" fill="none" stroke="#a9daa8" stroke-width="0.75" stroke-linejoin="round"/>
<path d="M203.7 332.5L205.9 336.6L201.5 336.6Z" fill="none" stroke="#a9daa8" stroke-width="0.75" stroke-linejoin="round"/>
<path d="M213.7 335.1L215.9 339.2L211.5 339.2Z" fill="none" stroke="#a9daa8" stroke-width="0.75" stroke-linejoin="round"/>
<path d="M214.0 334.8L216.2 338.9L211.8 338.9Z" fill="none" stroke="#a9daa8" stroke-width="0.75" stroke-linejoin="round"/>
<path d="M225.0 319.2L227.2 323.3L222.8 323.3Z" fill="none" stroke="#a9daa8" stroke-width="0.75" stroke-linejoin="round"/>
<path d="M225.0 322.0L227.2 326.1L222.8 326.1Z" fill="none" stroke="#a9daa8" stroke-width="0.75" stroke-linejoin="round"/>
<path d="M225.0 324.5L227.2 328.6L222.8 328.6Z" fill="none" stroke="#a9daa8" stroke-width="0.75" stroke-linejoin="round"/>
<path d="M225.0 333.5L227.2 337.6L222.8 337.6Z" fill="none" stroke="#a9daa8" stroke-width="0.75" stroke-linejoin="round"/>
<path d="M225.0 336.0L227.2 340.1L222.8 340.1Z" fill="none" stroke="#a9daa8" stroke-width="0.75" stroke-linejoin="round"/>
<path d="M225.0 338.9L227.2 343.0L222.8 343.0Z" fill="none" stroke="#a9daa8" stroke-width="0.75" stroke-linejoin="round"/>
<path d="M235.2 363.1L237.4 367.2L233.0 367.2Z" fill="none" stroke="#a9daa8" stroke-width="0.75" stroke-linejoin="round"/>
<path d="M252.4 353.0L254.6 357.1L250.2 357.1Z" fill="none" stroke="#a9daa8" stroke-width="0.75" stroke-linejoin="round"/>
<path d="M252.4 361.6L254.6 365.7L250.2 365.7Z" fill="none" stroke="#a9daa8" stroke-width="0.75" stroke-linejoin="round"/>
<path d="M286.3 337.1L288.5 341.2L284.1 341.2Z" fill="none" stroke="#a9daa8" stroke-width="0.75" stroke-linejoin="round"/>
<path d="M286.3 342.0L288.5 346.1L284.1 346.1Z" fill="none" stroke="#a9daa8" stroke-width="0.75" stroke-linejoin="round"/>
<path d="M286.0 342.0L288.2 346.1L283.8 346.1Z" fill="none" stroke="#a9daa8" stroke-width="0.75" stroke-linejoin="round"/>
<path d="M309.6 342.3L311.8 346.4L307.4 346.4Z" fill="none" stroke="#a9daa8" stroke-width="0.75" stroke-linejoin="round"/>
<path d="M325.8 310.4L328.0 314.5L323.6 314.5Z" fill="none" stroke="#a9daa8" stroke-width="0.75" stroke-linejoin="round"/>
<path d="M303.0 358.4L305.2 362.5L300.8 362.5Z" fill="none" stroke="#a9daa8" stroke-width="0.75" stroke-linejoin="round"/>
<path d="M33.8 340.7H38.4M36.1 338.4V343.0" stroke="#8a3ca6" stroke-width="0.7"/>
<path d="M33.8 343.2H38.4M36.1 340.9V345.5" stroke="#8a3ca6" stroke-width="0.7"/>
<path d="M33.8 358.4H38.4M36.1 356.1V360.7" stroke="#8a3ca6" stroke-width="0.7"/>
<path d="M102.4 363.1H107.0M104.7 360.8V365.4" stroke="#8a3ca6" stroke-width="0.7"/>
<path d="M115.1 353.4H119.7M117.4 351.1V355.7" stroke="#8a3ca6" stroke-width="0.7"/>
<path d="M115.1 361.3H119.7M117.4 359.0V363.6" stroke="#8a3ca6" stroke-width="0.7"/>
<path d="M148.9 366.1H153.5M151.2 363.8V368.4" stroke="#8a3ca6" stroke-width="0.7"/>
<path d="M165.0 309.1H169.6M167.3 306.8V311.4" stroke="#8a3ca6" stroke-width="0.7"/>
<path d="M165.0 312.1H169.6M167.3 309.8V314.4" stroke="#8a3ca6" stroke-width="0.7"/>
<path d="M165.0 318.9H169.6M167.3 316.6V321.2" stroke="#8a3ca6" stroke-width="0.7"/>
<path d="M165.0 315.8H169.6M167.3 313.5V318.1" stroke="#8a3ca6" stroke-width="0.7"/>
<path d="M165.0 319.1H169.6M167.3 316.8V321.4" stroke="#8a3ca6" stroke-width="0.7"/>
<path d="M165.0 328.1H169.6M167.3 325.8V330.4" stroke="#8a3ca6" stroke-width="0.7"/>
<path d="M165.0 340.4H169.6M167.3 338.1V342.7" stroke="#8a3ca6" stroke-width="0.7"/>
<path d="M165.0 360.0H169.6M167.3 357.7V362.3" stroke="#8a3ca6" stroke-width="0.7"/>
<path d="M170.7 361.7H175.3M173.0 359.4V364.0" stroke="#8a3ca6" stroke-width="0.7"/>
<path d="M199.2 284.6H203.8M201.5 282.3V286.9" stroke="#8a3ca6" stroke-width="0.7"/>
<path d="M194.5 344.1H199.1M196.8 341.8V346.4" stroke="#8a3ca6" stroke-width="0.7"/>
<path d="M195.5 346.2H200.1M197.8 343.9V348.5" stroke="#8a3ca6" stroke-width="0.7"/>
<path d="M195.3 356.0H199.9M197.6 353.7V358.3" stroke="#8a3ca6" stroke-width="0.7"/>
<path d="M198.5 364.0H203.1M200.8 361.7V366.3" stroke="#8a3ca6" stroke-width="0.7"/>
<path d="M198.5 366.5H203.1M200.8 364.2V368.8" stroke="#8a3ca6" stroke-width="0.7"/>
<path d="M223.1 358.4H227.7M225.4 356.1V360.7" stroke="#8a3ca6" stroke-width="0.7"/>
<path d="M266.2 369.1H270.8M268.5 366.8V371.4" stroke="#8a3ca6" stroke-width="0.7"/>
<path d="M300.1 307.1H304.7M302.4 304.8V309.4" stroke="#8a3ca6" stroke-width="0.7"/>
<path d="M313.8 334.7H318.4M316.1 332.4V337.0" stroke="#8a3ca6" stroke-width="0.7"/>
<path d="M313.8 340.4H318.4M316.1 338.1V342.7" stroke="#8a3ca6" stroke-width="0.7"/>
<path d="M311.7 368.3H316.3M314.0 366.0V370.6" stroke="#8a3ca6" stroke-width="0.7"/>
<path d="M42.9 356.9H47.5M45.2 354.6V359.2" stroke="#d2b2dd" stroke-width="0.7"/>
<path d="M66.2 366.6H70.8M68.5 364.3V368.9" stroke="#d2b2dd" stroke-width="0.7"/>
<path d="M121.5 314.7H126.1M123.8 312.4V317.0" stroke="#d2b2dd" stroke-width="0.7"/>
<path d="M121.5 326.0H126.1M123.8 323.7V328.3" stroke="#d2b2dd" stroke-width="0.7"/>
<path d="M121.5 331.4H126.1M123.8 329.1V333.7" stroke="#d2b2dd" stroke-width="0.7"/>
<path d="M122.0 326.4H126.6M124.3 324.1V328.7" stroke="#d2b2dd" stroke-width="0.7"/>
<path d="M122.0 330.5H126.6M124.3 328.2V332.8" stroke="#d2b2dd" stroke-width="0.7"/>
<path d="M103.4 320.5H108.0M105.7 318.2V322.8" stroke="#d2b2dd" stroke-width="0.7"/>
<path d="M104.0 352.0H108.6M106.3 349.7V354.3" stroke="#d2b2dd" stroke-width="0.7"/>
<path d="M201.1 307.4H205.7M203.4 305.1V309.7" stroke="#d2b2dd" stroke-width="0.7"/>
<path d="M201.1 314.5H205.7M203.4 312.2V316.8" stroke="#d2b2dd" stroke-width="0.7"/>
<path d="M226.8 300.6H231.4M229.1 298.3V302.9" stroke="#d2b2dd" stroke-width="0.7"/>
<path d="M226.8 311.9H231.4M229.1 309.6V314.2" stroke="#d2b2dd" stroke-width="0.7"/>
<path d="M222.7 343.6H227.3M225.0 341.3V345.9" stroke="#d2b2dd" stroke-width="0.7"/>
<path d="M223.1 344.9H227.7M225.4 342.6V347.2" stroke="#d2b2dd" stroke-width="0.7"/>
<path d="M223.1 354.0H227.7M225.4 351.7V356.3" stroke="#d2b2dd" stroke-width="0.7"/>
<path d="M211.7 369.3H216.3M214.0 367.0V371.6" stroke="#d2b2dd" stroke-width="0.7"/>
<path d="M232.9 357.5H237.5M235.2 355.2V359.8" stroke="#d2b2dd" stroke-width="0.7"/>
<path d="M250.1 298.2H254.7M252.4 295.9V300.5" stroke="#d2b2dd" stroke-width="0.7"/>
<path d="M250.1 347.9H254.7M252.4 345.6V350.2" stroke="#d2b2dd" stroke-width="0.7"/>
<path d="M284.0 336.9H288.6M286.3 334.6V339.2" stroke="#d2b2dd" stroke-width="0.7"/>
<path d="M284.0 354.7H288.6M286.3 352.4V357.0" stroke="#d2b2dd" stroke-width="0.7"/>
<path d="M307.2 286.0H311.8M309.5 283.7V288.3" stroke="#d2b2dd" stroke-width="0.7"/>
<path d="M307.0 286.0H311.6M309.3 283.7V288.3" stroke="#d2b2dd" stroke-width="0.7"/>
<path d="M302.0 350.7H306.6M304.3 348.4V353.0" stroke="#d2b2dd" stroke-width="0.7"/>
<path d="M323.7 340.1H328.3M326.0 337.8V342.4" stroke="#d2b2dd" stroke-width="0.7"/>
<path d="M283.7 337.1H288.3M286.0 334.8V339.4" stroke="#d2b2dd" stroke-width="0.7"/>
<path d="M283.7 354.0H288.3M286.0 351.7V356.3" stroke="#d2b2dd" stroke-width="0.7"/>
<path d="M36.1 358.1L38.3 360.3L36.1 362.5L33.9 360.3Z" fill="none" stroke="#f0782a" stroke-width="0.75" stroke-linejoin="round"/>
<path d="M36.1 362.5L38.3 364.7L36.1 366.9L33.9 364.7Z" fill="none" stroke="#f0782a" stroke-width="0.75" stroke-linejoin="round"/>
<path d="M68.5 368.4L70.7 370.6L68.5 372.8L66.3 370.6Z" fill="none" stroke="#f0782a" stroke-width="0.75" stroke-linejoin="round"/>
<path d="M104.7 363.0L106.9 365.2L104.7 367.4L102.5 365.2Z" fill="none" stroke="#f0782a" stroke-width="0.75" stroke-linejoin="round"/>
<path d="M104.7 365.7L106.9 367.9L104.7 370.1L102.5 367.9Z" fill="none" stroke="#f0782a" stroke-width="0.75" stroke-linejoin="round"/>
<path d="M117.4 367.4L119.6 369.6L117.4 371.8L115.2 369.6Z" fill="none" stroke="#f0782a" stroke-width="0.75" stroke-linejoin="round"/>
<path d="M151.2 361.2L153.4 363.4L151.2 365.6L149.0 363.4Z" fill="none" stroke="#f0782a" stroke-width="0.75" stroke-linejoin="round"/>
<path d="M173.0 368.9L175.2 371.1L173.0 373.3L170.8 371.1Z" fill="none" stroke="#f0782a" stroke-width="0.75" stroke-linejoin="round"/>
<path d="M167.3 355.4L169.5 357.6L167.3 359.8L165.1 357.6Z" fill="none" stroke="#f0782a" stroke-width="0.75" stroke-linejoin="round"/>
<path d="M167.3 357.8L169.5 360.0L167.3 362.2L165.1 360.0Z" fill="none" stroke="#f0782a" stroke-width="0.75" stroke-linejoin="round"/>
<path d="M167.3 360.3L169.5 362.5L167.3 364.7L165.1 362.5Z" fill="none" stroke="#f0782a" stroke-width="0.75" stroke-linejoin="round"/>
<path d="M167.3 362.8L169.5 365.0L167.3 367.2L165.1 365.0Z" fill="none" stroke="#f0782a" stroke-width="0.75" stroke-linejoin="round"/>
<path d="M167.3 365.3L169.5 367.5L167.3 369.7L165.1 367.5Z" fill="none" stroke="#f0782a" stroke-width="0.75" stroke-linejoin="round"/>
<path d="M167.3 366.9L169.5 369.1L167.3 371.3L165.1 369.1Z" fill="none" stroke="#f0782a" stroke-width="0.75" stroke-linejoin="round"/>
<path d="M197.6 357.8L199.8 360.0L197.6 362.2L195.4 360.0Z" fill="none" stroke="#f0782a" stroke-width="0.75" stroke-linejoin="round"/>
<path d="M198.0 359.8L200.2 362.0L198.0 364.2L195.8 362.0Z" fill="none" stroke="#f0782a" stroke-width="0.75" stroke-linejoin="round"/>
<path d="M197.6 361.8L199.8 364.0L197.6 366.2L195.4 364.0Z" fill="none" stroke="#f0782a" stroke-width="0.75" stroke-linejoin="round"/>
<path d="M225.4 347.7L227.6 349.9L225.4 352.1L223.2 349.9Z" fill="none" stroke="#f0782a" stroke-width="0.75" stroke-linejoin="round"/>
<path d="M225.4 354.8L227.6 357.0L225.4 359.2L223.2 357.0Z" fill="none" stroke="#f0782a" stroke-width="0.75" stroke-linejoin="round"/>
<path d="M225.4 357.8L227.6 360.0L225.4 362.2L223.2 360.0Z" fill="none" stroke="#f0782a" stroke-width="0.75" stroke-linejoin="round"/>
<path d="M225.4 360.8L227.6 363.0L225.4 365.2L223.2 363.0Z" fill="none" stroke="#f0782a" stroke-width="0.75" stroke-linejoin="round"/>
<path d="M225.4 363.8L227.6 366.0L225.4 368.2L223.2 366.0Z" fill="none" stroke="#f0782a" stroke-width="0.75" stroke-linejoin="round"/>
<path d="M225.4 366.8L227.6 369.0L225.4 371.2L223.2 369.0Z" fill="none" stroke="#f0782a" stroke-width="0.75" stroke-linejoin="round"/>
<path d="M225.4 368.8L227.6 371.0L225.4 373.2L223.2 371.0Z" fill="none" stroke="#f0782a" stroke-width="0.75" stroke-linejoin="round"/>
<path d="M228.9 358.1L231.1 360.3L228.9 362.5L226.7 360.3Z" fill="none" stroke="#f0782a" stroke-width="0.75" stroke-linejoin="round"/>
<path d="M268.5 321.0L270.7 323.2L268.5 325.4L266.3 323.2Z" fill="none" stroke="#f0782a" stroke-width="0.75" stroke-linejoin="round"/>
<path d="M316.1 342.3L318.3 344.5L316.1 346.7L313.9 344.5Z" fill="none" stroke="#f0782a" stroke-width="0.75" stroke-linejoin="round"/>
<path d="M316.1 348.0L318.3 350.2L316.1 352.4L313.9 350.2Z" fill="none" stroke="#f0782a" stroke-width="0.75" stroke-linejoin="round"/>
<path d="M316.1 357.1L318.3 359.3L316.1 361.5L313.9 359.3Z" fill="none" stroke="#f0782a" stroke-width="0.75" stroke-linejoin="round"/>
<path d="M315.0 360.3L317.2 362.5L315.0 364.7L312.8 362.5Z" fill="none" stroke="#f0782a" stroke-width="0.75" stroke-linejoin="round"/>
<path d="M314.0 362.0L316.2 364.2L314.0 366.4L311.8 364.2Z" fill="none" stroke="#f0782a" stroke-width="0.75" stroke-linejoin="round"/>
<path d="M303.0 362.3L305.2 364.5L303.0 366.7L300.8 364.5Z" fill="none" stroke="#f0782a" stroke-width="0.75" stroke-linejoin="round"/>
<path d="M225.0 346.7L227.2 348.9L225.0 351.1L222.8 348.9Z" fill="none" stroke="#f0782a" stroke-width="0.75" stroke-linejoin="round"/>
<path d="M45.2 365.6L47.4 367.8L45.2 370.0L43.0 367.8Z" fill="none" stroke="#f8c6a0" stroke-width="0.75" stroke-linejoin="round"/>
<path d="M68.5 365.0L70.7 367.2L68.5 369.4L66.3 367.2Z" fill="none" stroke="#f8c6a0" stroke-width="0.75" stroke-linejoin="round"/>
<path d="M106.3 354.0L108.5 356.2L106.3 358.4L104.1 356.2Z" fill="none" stroke="#f8c6a0" stroke-width="0.75" stroke-linejoin="round"/>
<path d="M106.3 355.8L108.5 358.0L106.3 360.2L104.1 358.0Z" fill="none" stroke="#f8c6a0" stroke-width="0.75" stroke-linejoin="round"/>
<path d="M106.3 357.4L108.5 359.6L106.3 361.8L104.1 359.6Z" fill="none" stroke="#f8c6a0" stroke-width="0.75" stroke-linejoin="round"/>
<path d="M142.2 359.5L144.4 361.7L142.2 363.9L140.0 361.7Z" fill="none" stroke="#f8c6a0" stroke-width="0.75" stroke-linejoin="round"/>
<path d="M203.7 350.9L205.9 353.1L203.7 355.3L201.5 353.1Z" fill="none" stroke="#f8c6a0" stroke-width="0.75" stroke-linejoin="round"/>
<path d="M214.0 352.4L216.2 354.6L214.0 356.8L211.8 354.6Z" fill="none" stroke="#f8c6a0" stroke-width="0.75" stroke-linejoin="round"/>
<path d="M252.4 368.9L254.6 371.1L252.4 373.3L250.2 371.1Z" fill="none" stroke="#f8c6a0" stroke-width="0.75" stroke-linejoin="round"/>
<path d="M286.3 346.2L288.5 348.4L286.3 350.6L284.1 348.4Z" fill="none" stroke="#f8c6a0" stroke-width="0.75" stroke-linejoin="round"/>
<path d="M286.3 351.8L288.5 354.0L286.3 356.2L284.1 354.0Z" fill="none" stroke="#f8c6a0" stroke-width="0.75" stroke-linejoin="round"/>
<path d="M286.3 355.6L288.5 357.8L286.3 360.0L284.1 357.8Z" fill="none" stroke="#f8c6a0" stroke-width="0.75" stroke-linejoin="round"/>
<path d="M309.6 356.2L311.8 358.4L309.6 360.6L307.4 358.4Z" fill="none" stroke="#f8c6a0" stroke-width="0.75" stroke-linejoin="round"/>
<path d="M309.6 365.3L311.8 367.5L309.6 369.7L307.4 367.5Z" fill="none" stroke="#f8c6a0" stroke-width="0.75" stroke-linejoin="round"/>
<path d="M304.3 368.5L306.5 370.7L304.3 372.9L302.1 370.7Z" fill="none" stroke="#f8c6a0" stroke-width="0.75" stroke-linejoin="round"/>
<path d="M326.0 368.5L328.2 370.7L326.0 372.9L323.8 370.7Z" fill="none" stroke="#f8c6a0" stroke-width="0.75" stroke-linejoin="round"/>
<path d="M286.0 346.4L288.2 348.6L286.0 350.8L283.8 348.6Z" fill="none" stroke="#f8c6a0" stroke-width="0.75" stroke-linejoin="round"/>
<path d="M286.0 355.8L288.2 358.0L286.0 360.2L283.8 358.0Z" fill="none" stroke="#f8c6a0" stroke-width="0.75" stroke-linejoin="round"/>
<path d="M196.0 353.8L198.2 356.0L196.0 358.2L193.8 356.0Z" fill="none" stroke="#f8c6a0" stroke-width="0.75" stroke-linejoin="round"/>
<path d="M196.0 365.8L198.2 368.0L196.0 370.2L193.8 368.0Z" fill="none" stroke="#f8c6a0" stroke-width="0.75" stroke-linejoin="round"/>
<path d="M199.0 368.2L201.2 370.4L199.0 372.6L196.8 370.4Z" fill="none" stroke="#f8c6a0" stroke-width="0.75" stroke-linejoin="round"/>
<path d="M202.0 363.8L204.2 366.0L202.0 368.2L199.8 366.0Z" fill="none" stroke="#f8c6a0" stroke-width="0.75" stroke-linejoin="round"/>
<rect x="121.4" y="340.4" width="6.2" height="32.8" rx="2.5" fill="#f8c6a0"/>
<path d="M316.1 317.6 L318.2 324.8 L314 324.8Z" fill="#34a33a"/>
<path d="M200.8 358.5L203.1 360.8L200.8 363.1L198.5 360.8Z" fill="none" stroke="#f0782a" stroke-width="1.0" stroke-linejoin="round"/>
<circle cx="200.9" cy="366.0" r="1.9" fill="#7a4fb0"/>
<path d="M197.6 367.4L199.8 369.6L197.6 371.8L195.4 369.6Z" fill="none" stroke="#f0782a" stroke-width="0.75" stroke-linejoin="round"/>
<path d="M123.8 317.8L126.0 320.0L123.8 322.2L121.6 320.0Z" fill="none" stroke="#f8c6a0" stroke-width="0.75" stroke-linejoin="round"/>
<text x="354.2" y="7.4" font-size="10.6" fill="#000" text-anchor="start" font-weight="bold">b</text>
<text x="380.0" y="13.8" font-size="6.55" fill="#111" text-anchor="start">TPMI and BBJ</text>
<line x1="379.5" y1="18.8" x2="379.5" y2="79.80000000000001" stroke="#7a7a7a" stroke-width="0.8"/>
<line x1="379.1" y1="79.4" x2="685" y2="79.4" stroke="#7a7a7a" stroke-width="0.8"/>
<line x1="377.6" y1="78.4" x2="379.5" y2="78.4" stroke="#7a7a7a" stroke-width="0.7"/>
<text x="375.0" y="81.0" font-size="6.3" fill="#1e1e1e" text-anchor="end">0</text>
<line x1="377.6" y1="65.85000000000001" x2="379.5" y2="65.85000000000001" stroke="#7a7a7a" stroke-width="0.7"/>
<text x="375.0" y="68.45" font-size="6.3" fill="#1e1e1e" text-anchor="end">5</text>
<line x1="377.6" y1="53.30000000000001" x2="379.5" y2="53.30000000000001" stroke="#7a7a7a" stroke-width="0.7"/>
<text x="375.0" y="55.90000000000001" font-size="6.3" fill="#1e1e1e" text-anchor="end">10</text>
<line x1="377.6" y1="40.75000000000001" x2="379.5" y2="40.75000000000001" stroke="#7a7a7a" stroke-width="0.7"/>
<text x="375.0" y="43.35000000000001" font-size="6.3" fill="#1e1e1e" text-anchor="end">15</text>
<line x1="377.6" y1="28.20000000000001" x2="379.5" y2="28.20000000000001" stroke="#7a7a7a" stroke-width="0.7"/>
<text x="375.0" y="30.80000000000001" font-size="6.3" fill="#1e1e1e" text-anchor="end">20</text>
<line x1="387.6" y1="79.4" x2="387.6" y2="81.2" stroke="#7a7a7a" stroke-width="0.7"/>
<text x="387.6" y="89.2" font-size="6.3" fill="#1e1e1e" text-anchor="middle">1</text>
<line x1="408.9" y1="79.4" x2="408.9" y2="81.2" stroke="#7a7a7a" stroke-width="0.7"/>
<text x="408.9" y="89.2" font-size="6.3" fill="#1e1e1e" text-anchor="middle">2</text>
<line x1="443.4" y1="79.4" x2="443.4" y2="81.2" stroke="#7a7a7a" stroke-width="0.7"/>
<text x="443.4" y="89.2" font-size="6.3" fill="#1e1e1e" text-anchor="middle">3</text>
<line x1="462.5" y1="79.4" x2="462.5" y2="81.2" stroke="#7a7a7a" stroke-width="0.7"/>
<text x="462.5" y="89.2" font-size="6.3" fill="#1e1e1e" text-anchor="middle">4</text>
<line x1="468.3" y1="79.4" x2="468.3" y2="81.2" stroke="#7a7a7a" stroke-width="0.7"/>
<text x="468.3" y="89.2" font-size="6.3" fill="#1e1e1e" text-anchor="middle">5</text>
<line x1="486.2" y1="79.4" x2="486.2" y2="81.2" stroke="#7a7a7a" stroke-width="0.7"/>
<text x="486.2" y="89.2" font-size="6.3" fill="#1e1e1e" text-anchor="middle">6</text>
<line x1="514.4" y1="79.4" x2="514.4" y2="81.2" stroke="#7a7a7a" stroke-width="0.7"/>
<text x="514.4" y="89.2" font-size="6.3" fill="#1e1e1e" text-anchor="middle">7</text>
<line x1="541.5" y1="79.4" x2="541.5" y2="81.2" stroke="#7a7a7a" stroke-width="0.7"/>
<text x="541.5" y="89.2" font-size="6.3" fill="#1e1e1e" text-anchor="middle">8</text>
<line x1="555.3" y1="79.4" x2="555.3" y2="81.2" stroke="#7a7a7a" stroke-width="0.7"/>
<text x="555.3" y="89.2" font-size="6.3" fill="#1e1e1e" text-anchor="middle">9</text>
<line x1="569.6" y1="79.4" x2="569.6" y2="81.2" stroke="#7a7a7a" stroke-width="0.7"/>
<text x="569.6" y="89.2" font-size="6.3" fill="#1e1e1e" text-anchor="middle">10</text>
<line x1="583.4" y1="79.4" x2="583.4" y2="81.2" stroke="#7a7a7a" stroke-width="0.7"/>
<text x="583.4" y="89.2" font-size="6.3" fill="#1e1e1e" text-anchor="middle">11</text>
<line x1="596.9" y1="79.4" x2="596.9" y2="81.2" stroke="#7a7a7a" stroke-width="0.7"/>
<text x="596.9" y="89.2" font-size="6.3" fill="#1e1e1e" text-anchor="middle">12</text>
<line x1="616.8" y1="79.4" x2="616.8" y2="81.2" stroke="#7a7a7a" stroke-width="0.7"/>
<text x="616.8" y="89.2" font-size="6.3" fill="#1e1e1e" text-anchor="middle">13</text>
<line x1="633.7" y1="79.4" x2="633.7" y2="81.2" stroke="#7a7a7a" stroke-width="0.7"/>
<text x="633.7" y="89.2" font-size="6.3" fill="#1e1e1e" text-anchor="middle">15</text>
<line x1="650.8" y1="79.4" x2="650.8" y2="81.2" stroke="#7a7a7a" stroke-width="0.7"/>
<text x="650.8" y="89.2" font-size="6.3" fill="#1e1e1e" text-anchor="middle">16</text>
<line x1="662.5" y1="79.4" x2="662.5" y2="81.2" stroke="#7a7a7a" stroke-width="0.7"/>
<text x="662.5" y="89.2" font-size="6.3" fill="#1e1e1e" text-anchor="middle">17</text>
<line x1="670.2" y1="79.4" x2="670.2" y2="81.2" stroke="#7a7a7a" stroke-width="0.7"/>
<line x1="677.5" y1="79.4" x2="677.5" y2="81.2" stroke="#7a7a7a" stroke-width="0.7"/>
<text x="677.5" y="89.2" font-size="6.3" fill="#1e1e1e" text-anchor="middle">20</text>
<line x1="380.0" y1="58.2" x2="685" y2="58.2" stroke="#ea3b43" stroke-width="0.95" stroke-dasharray="2.5 2.6"/>
<text x="381.7" y="54.5" font-size="6.6" fill="#e8404a" text-anchor="start">1 × 10</text>
<text x="399.8" y="50.6" font-size="4.4" fill="#e8404a" text-anchor="start">−8</text>
<text x="360.4" y="49.1" font-size="6.3" fill="#1e1e1e" text-anchor="middle" transform="rotate(-90 360.4 49.1)">−log<tspan font-size="4.4" dy="1.6">10</tspan><tspan dy="-1.6">(</tspan><tspan font-style="italic">P</tspan>)</text>
<circle cx="480.30" cy="23.00" r="2.15" fill="#f3a0a6"/>
<circle cx="480.30" cy="24.88" r="2.15" fill="#f3a0a6"/>
<circle cx="480.30" cy="26.76" r="2.15" fill="#f3a0a6"/>
<circle cx="480.30" cy="28.65" r="2.15" fill="#f3a0a6"/>
<circle cx="480.30" cy="30.53" r="2.15" fill="#f3a0a6"/>
<circle cx="480.30" cy="32.41" r="2.15" fill="#f3a0a6"/>
<circle cx="480.30" cy="34.29" r="2.15" fill="#f3a0a6"/>
<circle cx="480.30" cy="36.18" r="2.15" fill="#f3a0a6"/>
<circle cx="480.30" cy="38.06" r="2.15" fill="#f3a0a6"/>
<circle cx="480.30" cy="39.94" r="2.15" fill="#f3a0a6"/>
<circle cx="480.30" cy="41.82" r="2.15" fill="#f3a0a6"/>
<circle cx="480.30" cy="43.71" r="2.15" fill="#f3a0a6"/>
<circle cx="480.30" cy="45.59" r="2.15" fill="#f3a0a6"/>
<circle cx="480.30" cy="47.47" r="2.15" fill="#f3a0a6"/>
<circle cx="480.30" cy="49.35" r="2.15" fill="#f3a0a6"/>
<circle cx="480.30" cy="51.24" r="2.15" fill="#f3a0a6"/>
<circle cx="480.30" cy="53.12" r="2.15" fill="#f3a0a6"/>
<circle cx="480.30" cy="55.00" r="2.15" fill="#f3a0a6"/>
<circle cx="480.30" cy="57.60" r="2.15" fill="#c2d7ee"/>
<circle cx="480.30" cy="59.52" r="2.15" fill="#c2d7ee"/>
<circle cx="480.30" cy="61.44" r="2.15" fill="#c2d7ee"/>
<circle cx="480.30" cy="63.36" r="2.15" fill="#c2d7ee"/>
<circle cx="480.30" cy="65.28" r="2.15" fill="#c2d7ee"/>
<circle cx="480.30" cy="67.20" r="2.15" fill="#c2d7ee"/>
<circle cx="480.30" cy="69.12" r="2.15" fill="#c2d7ee"/>
<circle cx="480.30" cy="71.04" r="2.15" fill="#c2d7ee"/>
<circle cx="480.30" cy="72.96" r="2.15" fill="#c2d7ee"/>
<circle cx="480.30" cy="74.88" r="2.15" fill="#c2d7ee"/>
<circle cx="480.30" cy="76.80" r="2.15" fill="#c2d7ee"/>
<circle cx="480.3" cy="57.6" r="1.75" fill="none" stroke="#a8c5e6" stroke-width="0.6"/>
<circle cx="480.3" cy="60.5" r="1.75" fill="none" stroke="#a8c5e6" stroke-width="0.6"/>
<circle cx="480.3" cy="63.5" r="1.75" fill="none" stroke="#a8c5e6" stroke-width="0.6"/>
<circle cx="480.3" cy="66.5" r="1.75" fill="none" stroke="#a8c5e6" stroke-width="0.6"/>
<circle cx="480.3" cy="69.5" r="1.75" fill="none" stroke="#a8c5e6" stroke-width="0.6"/>
<circle cx="480.3" cy="72.5" r="1.75" fill="none" stroke="#a8c5e6" stroke-width="0.6"/>
<circle cx="480.3" cy="75.5" r="1.75" fill="none" stroke="#a8c5e6" stroke-width="0.6"/>
<circle cx="461.8" cy="25.1" r="1.8" fill="#f3a0a6"/>
<circle cx="461.8" cy="43.4" r="1.8" fill="#f3a0a6"/>
<circle cx="461.8" cy="48.2" r="1.8" fill="#f3a0a6"/>
<circle cx="462.5" cy="53.4" r="1.8" fill="#f3a0a6"/>
<circle cx="462.0" cy="55.9" r="1.8" fill="#f3a0a6"/>
<circle cx="401.2" cy="52.4" r="1.8" fill="#f3a0a6"/>
<circle cx="424.4" cy="54.7" r="1.8" fill="#f3a0a6"/>
<circle cx="424.4" cy="56.4" r="1.8" fill="#f3a0a6"/>
<circle cx="498.3" cy="56.8" r="1.8" fill="#f3a0a6"/>
<circle cx="537.6" cy="48.9" r="1.8" fill="#f3a0a6"/>
<circle cx="552.9" cy="40.6" r="1.8" fill="#f3a0a6"/>
<circle cx="559.6" cy="30.9" r="1.8" fill="#f3a0a6"/>
<circle cx="575.5" cy="22.1" r="1.8" fill="#f3a0a6"/>
<circle cx="569.7" cy="53.3" r="1.8" fill="#f3a0a6"/>
<circle cx="552.9" cy="56.8" r="1.8" fill="#f3a0a6"/>
<circle cx="560.0" cy="56.4" r="1.8" fill="#f3a0a6"/>
<circle cx="591.2" cy="51.2" r="1.8" fill="#f3a0a6"/>
<circle cx="608.3" cy="51.7" r="1.8" fill="#f3a0a6"/>
<circle cx="608.3" cy="53.8" r="1.8" fill="#f3a0a6"/>
<circle cx="608.3" cy="55.9" r="1.8" fill="#f3a0a6"/>
<circle cx="642.3" cy="52.9" r="1.8" fill="#f3a0a6"/>
<circle cx="642.3" cy="55.0" r="1.8" fill="#f3a0a6"/>
<circle cx="642.3" cy="57.2" r="1.8" fill="#f3a0a6"/>
<circle cx="660.3" cy="55.6" r="1.8" fill="#f3a0a6"/>
<circle cx="666.1" cy="46.7" r="1.8" fill="#f3a0a6"/>
<circle cx="682.0" cy="56.8" r="1.8" fill="#f3a0a6"/>
<circle cx="581.20" cy="42.30" r="1.6" fill="#f3a0a6"/>
<circle cx="581.20" cy="44.07" r="1.6" fill="#f3a0a6"/>
<circle cx="581.20" cy="45.83" r="1.6" fill="#f3a0a6"/>
<circle cx="581.20" cy="47.60" r="1.6" fill="#f3a0a6"/>
<circle cx="581.20" cy="49.37" r="1.6" fill="#f3a0a6"/>
<circle cx="581.20" cy="51.13" r="1.6" fill="#f3a0a6"/>
<circle cx="581.20" cy="52.90" r="1.6" fill="#f3a0a6"/>
<circle cx="392.3" cy="36.5" r="1.8" fill="#e3141c"/>
<circle cx="392.3" cy="47.3" r="1.8" fill="#e3141c"/>
<circle cx="392.3" cy="56.1" r="1.8" fill="#e3141c"/>
<circle cx="460.6" cy="52.0" r="1.8" fill="#e3141c"/>
<circle cx="460.6" cy="55.2" r="1.8" fill="#e3141c"/>
<circle cx="473.8" cy="47.1" r="1.8" fill="#e3141c"/>
<circle cx="473.8" cy="51.5" r="1.8" fill="#e3141c"/>
<circle cx="507.3" cy="56.4" r="1.8" fill="#e3141c"/>
<circle cx="529.2" cy="58.2" r="1.8" fill="#e3141c"/>
<circle cx="553.8" cy="48.2" r="1.8" fill="#e3141c"/>
<circle cx="553.8" cy="49.9" r="1.8" fill="#e3141c"/>
<circle cx="557.3" cy="48.2" r="1.8" fill="#e3141c"/>
<circle cx="557.3" cy="53.8" r="1.8" fill="#e3141c"/>
<circle cx="557.3" cy="56.4" r="1.8" fill="#e3141c"/>
<circle cx="585.2" cy="44.6" r="1.8" fill="#e3141c"/>
<circle cx="585.2" cy="57.3" r="1.8" fill="#e3141c"/>
<circle cx="624.3" cy="52.0" r="1.8" fill="#e3141c"/>
<circle cx="658.6" cy="56.6" r="1.8" fill="#e3141c"/>
<circle cx="670.3" cy="49.4" r="1.8" fill="#e3141c"/>
<circle cx="670.3" cy="52.9" r="1.8" fill="#e3141c"/>
<circle cx="672.6" cy="56.4" r="1.8" fill="#e3141c"/>
<circle cx="672.6" cy="57.7" r="1.8" fill="#e3141c"/>
<circle cx="581.2" cy="51.2" r="1.8" fill="#e3141c"/>
<circle cx="581.2" cy="53.5" r="1.8" fill="#e3141c"/>
<circle cx="581.2" cy="55.5" r="1.8" fill="#e3141c"/>
<circle cx="581.2" cy="57.3" r="1.8" fill="#e3141c"/>
<circle cx="523.20" cy="43.60" r="1.65" fill="#e3141c"/>
<circle cx="523.20" cy="45.56" r="1.65" fill="#e3141c"/>
<circle cx="523.20" cy="47.51" r="1.65" fill="#e3141c"/>
<circle cx="523.20" cy="49.47" r="1.65" fill="#e3141c"/>
<circle cx="523.20" cy="51.43" r="1.65" fill="#e3141c"/>
<circle cx="523.20" cy="53.39" r="1.65" fill="#e3141c"/>
<circle cx="523.20" cy="55.34" r="1.65" fill="#e3141c"/>
<circle cx="523.20" cy="57.30" r="1.65" fill="#e3141c"/>
<circle cx="392.3" cy="60.0" r="1.6" fill="none" stroke="#3a78c2" stroke-width="0.75"/>
<circle cx="392.3" cy="65.6" r="1.6" fill="none" stroke="#3a78c2" stroke-width="0.75"/>
<circle cx="461.5" cy="60.0" r="1.6" fill="none" stroke="#3a78c2" stroke-width="0.75"/>
<circle cx="461.5" cy="73.7" r="1.6" fill="none" stroke="#3a78c2" stroke-width="0.75"/>
<circle cx="473.8" cy="63.0" r="1.6" fill="none" stroke="#3a78c2" stroke-width="0.75"/>
<circle cx="473.8" cy="69.1" r="1.6" fill="none" stroke="#3a78c2" stroke-width="0.75"/>
<circle cx="507.3" cy="73.7" r="1.6" fill="none" stroke="#3a78c2" stroke-width="0.75"/>
<circle cx="529.2" cy="73.7" r="1.6" fill="none" stroke="#3a78c2" stroke-width="0.75"/>
<circle cx="553.0" cy="59.1" r="1.6" fill="none" stroke="#3a78c2" stroke-width="0.75"/>
<circle cx="557.3" cy="59.1" r="1.6" fill="none" stroke="#3a78c2" stroke-width="0.75"/>
<circle cx="557.3" cy="65.8" r="1.6" fill="none" stroke="#3a78c2" stroke-width="0.75"/>
<circle cx="557.3" cy="77.6" r="1.6" fill="none" stroke="#3a78c2" stroke-width="0.75"/>
<circle cx="581.2" cy="61.2" r="1.6" fill="none" stroke="#3a78c2" stroke-width="0.75"/>
<circle cx="581.2" cy="65.3" r="1.6" fill="none" stroke="#3a78c2" stroke-width="0.75"/>
<circle cx="581.2" cy="67.9" r="1.6" fill="none" stroke="#3a78c2" stroke-width="0.75"/>
<circle cx="581.2" cy="71.1" r="1.6" fill="none" stroke="#3a78c2" stroke-width="0.75"/>
<circle cx="585.2" cy="72.3" r="1.6" fill="none" stroke="#3a78c2" stroke-width="0.75"/>
<circle cx="585.2" cy="62.6" r="1.6" fill="none" stroke="#3a78c2" stroke-width="0.75"/>
<circle cx="624.3" cy="72.0" r="1.6" fill="none" stroke="#3a78c2" stroke-width="0.75"/>
<circle cx="658.6" cy="66.8" r="1.6" fill="none" stroke="#3a78c2" stroke-width="0.75"/>
<circle cx="672.6" cy="61.7" r="1.6" fill="none" stroke="#3a78c2" stroke-width="0.75"/>
<circle cx="672.6" cy="63.5" r="1.6" fill="none" stroke="#3a78c2" stroke-width="0.75"/>
<circle cx="672.6" cy="65.3" r="1.6" fill="none" stroke="#3a78c2" stroke-width="0.75"/>
<circle cx="670.3" cy="71.6" r="1.6" fill="none" stroke="#3a78c2" stroke-width="0.75"/>
<circle cx="670.3" cy="73.0" r="1.6" fill="none" stroke="#3a78c2" stroke-width="0.75"/>
<circle cx="507.5" cy="74.1" r="1.6" fill="none" stroke="#3a78c2" stroke-width="0.75"/>
<circle cx="529.2" cy="74.1" r="1.6" fill="none" stroke="#3a78c2" stroke-width="0.75"/>
<circle cx="557.1" cy="77.4" r="1.6" fill="none" stroke="#3a78c2" stroke-width="0.75"/>
<circle cx="581.8" cy="71.0" r="1.6" fill="none" stroke="#3a78c2" stroke-width="0.75"/>
<circle cx="585.1" cy="72.6" r="1.6" fill="none" stroke="#3a78c2" stroke-width="0.75"/>
<circle cx="624.5" cy="72.2" r="1.6" fill="none" stroke="#3a78c2" stroke-width="0.75"/>
<circle cx="523.2" cy="60.2" r="1.6" fill="none" stroke="#3a78c2" stroke-width="0.75"/>
<circle cx="523.2" cy="64.0" r="1.6" fill="none" stroke="#3a78c2" stroke-width="0.75"/>
<circle cx="523.2" cy="65.8" r="1.6" fill="none" stroke="#3a78c2" stroke-width="0.75"/>
<circle cx="523.2" cy="67.6" r="1.6" fill="none" stroke="#3a78c2" stroke-width="0.75"/>
<circle cx="523.2" cy="71.2" r="1.6" fill="none" stroke="#3a78c2" stroke-width="0.75"/>
<circle cx="523.2" cy="73.0" r="1.6" fill="none" stroke="#3a78c2" stroke-width="0.75"/>
<circle cx="523.2" cy="74.8" r="1.6" fill="none" stroke="#3a78c2" stroke-width="0.75"/>
<circle cx="401.2" cy="63.0" r="1.6" fill="none" stroke="#a6c4e6" stroke-width="0.75"/>
<circle cx="424.4" cy="58.7" r="1.6" fill="none" stroke="#a6c4e6" stroke-width="0.75"/>
<circle cx="462.0" cy="72.3" r="1.6" fill="none" stroke="#a6c4e6" stroke-width="0.75"/>
<circle cx="463.0" cy="71.8" r="1.6" fill="none" stroke="#a6c4e6" stroke-width="0.75"/>
<circle cx="498.3" cy="69.3" r="1.6" fill="none" stroke="#a6c4e6" stroke-width="0.75"/>
<circle cx="498.1" cy="70.0" r="1.6" fill="none" stroke="#a6c4e6" stroke-width="0.75"/>
<circle cx="552.5" cy="66.7" r="1.6" fill="none" stroke="#a6c4e6" stroke-width="0.75"/>
<circle cx="560.5" cy="64.7" r="1.6" fill="none" stroke="#a6c4e6" stroke-width="0.75"/>
<circle cx="569.7" cy="61.4" r="1.6" fill="none" stroke="#a6c4e6" stroke-width="0.75"/>
<circle cx="581.2" cy="69.7" r="1.6" fill="none" stroke="#a6c4e6" stroke-width="0.75"/>
<circle cx="591.2" cy="62.1" r="1.6" fill="none" stroke="#a6c4e6" stroke-width="0.75"/>
<circle cx="608.3" cy="65.8" r="1.6" fill="none" stroke="#a6c4e6" stroke-width="0.75"/>
<circle cx="608.3" cy="74.4" r="1.6" fill="none" stroke="#a6c4e6" stroke-width="0.75"/>
<circle cx="608.3" cy="74.3" r="1.6" fill="none" stroke="#a6c4e6" stroke-width="0.75"/>
<circle cx="642.3" cy="57.0" r="1.6" fill="none" stroke="#a6c4e6" stroke-width="0.75"/>
<circle cx="642.3" cy="64.0" r="1.6" fill="none" stroke="#a6c4e6" stroke-width="0.75"/>
<circle cx="660.3" cy="58.2" r="1.6" fill="none" stroke="#a6c4e6" stroke-width="0.75"/>
<circle cx="658.6" cy="77.6" r="1.6" fill="none" stroke="#a6c4e6" stroke-width="0.75"/>
<circle cx="659.1" cy="77.7" r="1.6" fill="none" stroke="#a6c4e6" stroke-width="0.75"/>
<circle cx="682.0" cy="66.1" r="1.6" fill="none" stroke="#a6c4e6" stroke-width="0.75"/>
<text x="380.0" y="112.9" font-size="6.55" fill="#111" text-anchor="start">TPMI and CKB</text>
<line x1="379.5" y1="116.3" x2="379.5" y2="178.8" stroke="#7a7a7a" stroke-width="0.8"/>
<line x1="379.1" y1="178.4" x2="684" y2="178.4" stroke="#7a7a7a" stroke-width="0.8"/>
<line x1="377.6" y1="177.4" x2="379.5" y2="177.4" stroke="#7a7a7a" stroke-width="0.7"/>
<text x="375.0" y="180.0" font-size="6.3" fill="#1e1e1e" text-anchor="end">0</text>
<line x1="377.6" y1="157.6" x2="379.5" y2="157.6" stroke="#7a7a7a" stroke-width="0.7"/>
<text x="375.0" y="160.2" font-size="6.3" fill="#1e1e1e" text-anchor="end">20</text>
<line x1="377.6" y1="137.8" x2="379.5" y2="137.8" stroke="#7a7a7a" stroke-width="0.7"/>
<text x="375.0" y="140.4" font-size="6.3" fill="#1e1e1e" text-anchor="end">40</text>
<line x1="377.6" y1="118.0" x2="379.5" y2="118.0" stroke="#7a7a7a" stroke-width="0.7"/>
<text x="375.0" y="120.6" font-size="6.3" fill="#1e1e1e" text-anchor="end">60</text>
<line x1="387.5" y1="178.4" x2="387.5" y2="180.20000000000002" stroke="#7a7a7a" stroke-width="0.7"/>
<text x="387.5" y="188.70000000000002" font-size="6.3" fill="#1e1e1e" text-anchor="middle">1</text>
<line x1="407.7" y1="178.4" x2="407.7" y2="180.20000000000002" stroke="#7a7a7a" stroke-width="0.7"/>
<text x="407.7" y="188.70000000000002" font-size="6.3" fill="#1e1e1e" text-anchor="middle">2</text>
<line x1="440.7" y1="178.4" x2="440.7" y2="180.20000000000002" stroke="#7a7a7a" stroke-width="0.7"/>
<text x="440.7" y="188.70000000000002" font-size="6.3" fill="#1e1e1e" text-anchor="middle">3</text>
<line x1="458.9" y1="178.4" x2="458.9" y2="180.20000000000002" stroke="#7a7a7a" stroke-width="0.7"/>
<text x="458.9" y="188.70000000000002" font-size="6.3" fill="#1e1e1e" text-anchor="middle">4</text>
<line x1="464.7" y1="178.4" x2="464.7" y2="180.20000000000002" stroke="#7a7a7a" stroke-width="0.7"/>
<text x="464.7" y="188.70000000000002" font-size="6.3" fill="#1e1e1e" text-anchor="middle">5</text>
<line x1="482.1" y1="178.4" x2="482.1" y2="180.20000000000002" stroke="#7a7a7a" stroke-width="0.7"/>
<text x="482.1" y="188.70000000000002" font-size="6.3" fill="#1e1e1e" text-anchor="middle">6</text>
<line x1="508.5" y1="178.4" x2="508.5" y2="180.20000000000002" stroke="#7a7a7a" stroke-width="0.7"/>
<text x="508.5" y="188.70000000000002" font-size="6.3" fill="#1e1e1e" text-anchor="middle">7</text>
<line x1="534.3" y1="178.4" x2="534.3" y2="180.20000000000002" stroke="#7a7a7a" stroke-width="0.7"/>
<text x="534.3" y="188.70000000000002" font-size="6.3" fill="#1e1e1e" text-anchor="middle">8</text>
<line x1="547.9" y1="178.4" x2="547.9" y2="180.20000000000002" stroke="#7a7a7a" stroke-width="0.7"/>
<text x="547.9" y="188.70000000000002" font-size="6.3" fill="#1e1e1e" text-anchor="middle">9</text>
<line x1="561.5" y1="178.4" x2="561.5" y2="180.20000000000002" stroke="#7a7a7a" stroke-width="0.7"/>
<text x="561.5" y="188.70000000000002" font-size="6.3" fill="#1e1e1e" text-anchor="middle">10</text>
<line x1="580.0" y1="178.4" x2="580.0" y2="180.20000000000002" stroke="#7a7a7a" stroke-width="0.7"/>
<text x="580.0" y="188.70000000000002" font-size="6.3" fill="#1e1e1e" text-anchor="middle">11</text>
<line x1="598.4" y1="178.4" x2="598.4" y2="180.20000000000002" stroke="#7a7a7a" stroke-width="0.7"/>
<text x="598.4" y="188.70000000000002" font-size="6.3" fill="#1e1e1e" text-anchor="middle">12</text>
<line x1="617.3" y1="178.4" x2="617.3" y2="180.20000000000002" stroke="#7a7a7a" stroke-width="0.7"/>
<text x="617.3" y="188.70000000000002" font-size="6.3" fill="#1e1e1e" text-anchor="middle">13</text>
<line x1="633.3" y1="178.4" x2="633.3" y2="180.20000000000002" stroke="#7a7a7a" stroke-width="0.7"/>
<text x="633.3" y="188.70000000000002" font-size="6.3" fill="#1e1e1e" text-anchor="middle">15</text>
<line x1="650.0" y1="178.4" x2="650.0" y2="180.20000000000002" stroke="#7a7a7a" stroke-width="0.7"/>
<text x="650.0" y="188.70000000000002" font-size="6.3" fill="#1e1e1e" text-anchor="middle">16</text>
<line x1="660.9" y1="178.4" x2="660.9" y2="180.20000000000002" stroke="#7a7a7a" stroke-width="0.7"/>
<text x="660.9" y="188.70000000000002" font-size="6.3" fill="#1e1e1e" text-anchor="middle">17</text>
<line x1="668.7" y1="178.4" x2="668.7" y2="180.20000000000002" stroke="#7a7a7a" stroke-width="0.7"/>
<line x1="677.4" y1="178.4" x2="677.4" y2="180.20000000000002" stroke="#7a7a7a" stroke-width="0.7"/>
<text x="677.4" y="188.70000000000002" font-size="6.3" fill="#1e1e1e" text-anchor="middle">20</text>
<line x1="380.0" y1="169.4" x2="684" y2="169.4" stroke="#ea3b43" stroke-width="0.95" stroke-dasharray="2.5 2.6"/>
<text x="381.7" y="167.0" font-size="6.6" fill="#e8404a" text-anchor="start">1 × 10</text>
<text x="399.8" y="163.1" font-size="4.4" fill="#e8404a" text-anchor="start">−8</text>
<text x="360.4" y="147.3" font-size="6.3" fill="#1e1e1e" text-anchor="middle" transform="rotate(-90 360.4 147.3)">−log<tspan font-size="4.4" dy="1.6">10</tspan><tspan dy="-1.6">(</tspan><tspan font-style="italic">P</tspan>)</text>
<circle cx="400.8" cy="168.0" r="1.8" fill="#f3a0a6"/>
<circle cx="422.6" cy="168.3" r="1.8" fill="#f3a0a6"/>
<circle cx="458.6" cy="156.7" r="1.8" fill="#f3a0a6"/>
<circle cx="473.9" cy="121.4" r="1.8" fill="#f3a0a6"/>
<circle cx="473.9" cy="123.4" r="1.8" fill="#f3a0a6"/>
<circle cx="473.9" cy="129.3" r="1.8" fill="#f3a0a6"/>
<circle cx="473.9" cy="131.5" r="1.8" fill="#f3a0a6"/>
<circle cx="473.9" cy="146.2" r="1.8" fill="#f3a0a6"/>
<circle cx="473.9" cy="150.8" r="1.8" fill="#f3a0a6"/>
<circle cx="493.3" cy="168.3" r="1.8" fill="#f3a0a6"/>
<circle cx="493.4" cy="169.0" r="1.8" fill="#f3a0a6"/>
<circle cx="545.3" cy="131.0" r="1.8" fill="#f3a0a6"/>
<circle cx="545.3" cy="134.5" r="1.8" fill="#f3a0a6"/>
<circle cx="552.1" cy="135.4" r="1.8" fill="#f3a0a6"/>
<circle cx="552.1" cy="139.4" r="1.8" fill="#f3a0a6"/>
<circle cx="552.1" cy="141.5" r="1.8" fill="#f3a0a6"/>
<circle cx="552.1" cy="158.0" r="1.8" fill="#f3a0a6"/>
<circle cx="552.1" cy="159.8" r="1.8" fill="#f3a0a6"/>
<circle cx="561.7" cy="167.1" r="1.8" fill="#f3a0a6"/>
<circle cx="592.5" cy="152.9" r="1.8" fill="#f3a0a6"/>
<circle cx="592.5" cy="166.5" r="1.8" fill="#f3a0a6"/>
<circle cx="609.1" cy="167.6" r="1.8" fill="#f3a0a6"/>
<circle cx="632.7" cy="168.0" r="1.8" fill="#f3a0a6"/>
<circle cx="639.4" cy="164.0" r="1.8" fill="#f3a0a6"/>
<circle cx="636.7" cy="166.5" r="1.8" fill="#f3a0a6"/>
<circle cx="642.5" cy="168.0" r="1.8" fill="#f3a0a6"/>
<circle cx="639.0" cy="169.8" r="1.8" fill="#f3a0a6"/>
<circle cx="657.8" cy="168.1" r="1.8" fill="#f3a0a6"/>
<circle cx="658.7" cy="161.7" r="1.8" fill="#f3a0a6"/>
<circle cx="680.8" cy="166.6" r="1.8" fill="#f3a0a6"/>
<circle cx="571.0" cy="165.0" r="1.8" fill="#f3a0a6"/>
<circle cx="574.0" cy="166.0" r="1.8" fill="#f3a0a6"/>
<circle cx="552.0" cy="168.2" r="1.8" fill="#f3a0a6"/>
<circle cx="459.20" cy="163.00" r="1.6" fill="#f3a0a6"/>
<circle cx="459.20" cy="165.00" r="1.6" fill="#f3a0a6"/>
<circle cx="459.20" cy="167.00" r="1.6" fill="#f3a0a6"/>
<circle cx="459.20" cy="169.00" r="1.6" fill="#f3a0a6"/>
<circle cx="531.30" cy="162.50" r="1.6" fill="#f3a0a6"/>
<circle cx="531.30" cy="164.43" r="1.6" fill="#f3a0a6"/>
<circle cx="531.30" cy="166.37" r="1.6" fill="#f3a0a6"/>
<circle cx="531.30" cy="168.30" r="1.6" fill="#f3a0a6"/>
<circle cx="567.20" cy="151.50" r="1.6" fill="#f3a0a6"/>
<circle cx="567.20" cy="153.33" r="1.6" fill="#f3a0a6"/>
<circle cx="567.20" cy="155.17" r="1.6" fill="#f3a0a6"/>
<circle cx="567.20" cy="157.00" r="1.6" fill="#f3a0a6"/>
<circle cx="567.20" cy="158.83" r="1.6" fill="#f3a0a6"/>
<circle cx="567.20" cy="160.67" r="1.6" fill="#f3a0a6"/>
<circle cx="567.20" cy="162.50" r="1.6" fill="#f3a0a6"/>
<circle cx="664.00" cy="153.60" r="1.6" fill="#f3a0a6"/>
<circle cx="664.00" cy="155.57" r="1.6" fill="#f3a0a6"/>
<circle cx="664.00" cy="157.53" r="1.6" fill="#f3a0a6"/>
<circle cx="664.00" cy="159.50" r="1.6" fill="#f3a0a6"/>
<circle cx="664.00" cy="161.47" r="1.6" fill="#f3a0a6"/>
<circle cx="664.00" cy="163.43" r="1.6" fill="#f3a0a6"/>
<circle cx="664.00" cy="165.40" r="1.6" fill="#f3a0a6"/>
<path d="M472.6 169.5 L472.6 159 Q472.6 156 475 155 L476.5 154.5 Q478.3 154.5 478.3 157 L478.3 169.5Z" fill="#f3a0a6"/>
<circle cx="392.1" cy="160.2" r="1.8" fill="#e3141c"/>
<circle cx="392.1" cy="164.5" r="1.8" fill="#e3141c"/>
<circle cx="392.1" cy="166.3" r="1.8" fill="#e3141c"/>
<circle cx="392.1" cy="168.5" r="1.8" fill="#e3141c"/>
<circle cx="428.0" cy="159.5" r="1.8" fill="#e3141c"/>
<circle cx="428.0" cy="162.0" r="1.8" fill="#e3141c"/>
<circle cx="428.0" cy="164.5" r="1.8" fill="#e3141c"/>
<circle cx="428.0" cy="167.0" r="1.8" fill="#e3141c"/>
<circle cx="428.0" cy="170.2" r="1.8" fill="#e3141c"/>
<circle cx="434.9" cy="164.3" r="1.8" fill="#e3141c"/>
<circle cx="434.9" cy="166.8" r="1.8" fill="#e3141c"/>
<circle cx="434.9" cy="169.5" r="1.8" fill="#e3141c"/>
<circle cx="457.4" cy="143.0" r="1.8" fill="#e3141c"/>
<circle cx="457.4" cy="145.3" r="1.8" fill="#e3141c"/>
<circle cx="457.4" cy="147.7" r="1.8" fill="#e3141c"/>
<circle cx="457.4" cy="161.4" r="1.8" fill="#e3141c"/>
<circle cx="457.4" cy="165.6" r="1.8" fill="#e3141c"/>
<circle cx="457.4" cy="168.0" r="1.8" fill="#e3141c"/>
<circle cx="469.8" cy="160.7" r="1.8" fill="#e3141c"/>
<circle cx="469.8" cy="165.3" r="1.8" fill="#e3141c"/>
<circle cx="496.7" cy="165.5" r="1.8" fill="#e3141c"/>
<circle cx="496.7" cy="167.8" r="1.8" fill="#e3141c"/>
<circle cx="502.1" cy="168.9" r="1.8" fill="#e3141c"/>
<circle cx="523.0" cy="169.4" r="1.8" fill="#e3141c"/>
<circle cx="545.6" cy="155.5" r="1.8" fill="#e3141c"/>
<circle cx="545.6" cy="157.5" r="1.8" fill="#e3141c"/>
<circle cx="545.6" cy="159.3" r="1.8" fill="#e3141c"/>
<circle cx="549.6" cy="154.6" r="1.8" fill="#e3141c"/>
<circle cx="573.2" cy="128.3" r="1.8" fill="#e3141c"/>
<circle cx="573.2" cy="132.2" r="1.8" fill="#e3141c"/>
<circle cx="517.6" cy="152.4" r="1.8" fill="#e3141c"/>
<circle cx="517.6" cy="154.3" r="1.8" fill="#e3141c"/>
<circle cx="517.6" cy="159.1" r="1.8" fill="#e3141c"/>
<circle cx="517.6" cy="163.5" r="1.8" fill="#e3141c"/>
<circle cx="517.6" cy="165.5" r="1.8" fill="#e3141c"/>
<circle cx="517.6" cy="167.5" r="1.8" fill="#e3141c"/>
<circle cx="517.6" cy="169.5" r="1.8" fill="#e3141c"/>
<circle cx="586.2" cy="164.5" r="1.8" fill="#e3141c"/>
<circle cx="586.2" cy="167.8" r="1.8" fill="#e3141c"/>
<circle cx="615.8" cy="163.1" r="1.8" fill="#e3141c"/>
<circle cx="615.8" cy="169.4" r="1.8" fill="#e3141c"/>
<circle cx="624.3" cy="167.1" r="1.8" fill="#e3141c"/>
<circle cx="668.1" cy="165.5" r="1.8" fill="#e3141c"/>
<circle cx="668.1" cy="168.0" r="1.8" fill="#e3141c"/>
<circle cx="672.7" cy="167.7" r="1.8" fill="#e3141c"/>
<circle cx="670.5" cy="169.0" r="1.8" fill="#e3141c"/>
<circle cx="545.60" cy="163.50" r="1.6" fill="#e3141c"/>
<circle cx="545.60" cy="165.53" r="1.6" fill="#e3141c"/>
<circle cx="545.60" cy="167.57" r="1.6" fill="#e3141c"/>
<circle cx="545.60" cy="169.60" r="1.6" fill="#e3141c"/>
<circle cx="549.40" cy="164.50" r="1.6" fill="#e3141c"/>
<circle cx="549.40" cy="166.20" r="1.6" fill="#e3141c"/>
<circle cx="549.40" cy="167.90" r="1.6" fill="#e3141c"/>
<circle cx="549.40" cy="169.60" r="1.6" fill="#e3141c"/>
<circle cx="574.20" cy="164.50" r="1.6" fill="#e3141c"/>
<circle cx="574.20" cy="166.20" r="1.6" fill="#e3141c"/>
<circle cx="574.20" cy="167.90" r="1.6" fill="#e3141c"/>
<circle cx="574.20" cy="169.60" r="1.6" fill="#e3141c"/>
<circle cx="577.20" cy="163.80" r="1.6" fill="#e3141c"/>
<circle cx="577.20" cy="165.73" r="1.6" fill="#e3141c"/>
<circle cx="577.20" cy="167.67" r="1.6" fill="#e3141c"/>
<circle cx="577.20" cy="169.60" r="1.6" fill="#e3141c"/>
<circle cx="652.00" cy="166.20" r="1.6" fill="#e3141c"/>
<circle cx="652.00" cy="167.87" r="1.6" fill="#e3141c"/>
<circle cx="652.00" cy="169.53" r="1.6" fill="#e3141c"/>
<circle cx="652.00" cy="171.20" r="1.6" fill="#e3141c"/>
<path d="M392.1 174.2L394.3 178.3L389.9 178.3Z" fill="none" stroke="#34a33a" stroke-width="0.85" stroke-linejoin="round"/>
<path d="M427.6 170.1L429.8 174.2L425.4 174.2Z" fill="none" stroke="#34a33a" stroke-width="0.85" stroke-linejoin="round"/>
<path d="M427.6 172.1L429.8 176.2L425.4 176.2Z" fill="none" stroke="#34a33a" stroke-width="0.85" stroke-linejoin="round"/>
<path d="M427.6 174.1L429.8 178.2L425.4 178.2Z" fill="none" stroke="#34a33a" stroke-width="0.85" stroke-linejoin="round"/>
<path d="M434.9 172.1L437.1 176.2L432.7 176.2Z" fill="none" stroke="#34a33a" stroke-width="0.85" stroke-linejoin="round"/>
<path d="M457.5 170.9L459.7 175.0L455.3 175.0Z" fill="none" stroke="#34a33a" stroke-width="0.85" stroke-linejoin="round"/>
<path d="M457.5 173.5L459.7 177.6L455.3 177.6Z" fill="none" stroke="#34a33a" stroke-width="0.85" stroke-linejoin="round"/>
<path d="M469.8 172.5L472.0 176.6L467.6 176.6Z" fill="none" stroke="#34a33a" stroke-width="0.85" stroke-linejoin="round"/>
<path d="M496.7 173.6L498.9 177.7L494.5 177.7Z" fill="none" stroke="#34a33a" stroke-width="0.85" stroke-linejoin="round"/>
<path d="M517.5 169.7L519.7 173.8L515.3 173.8Z" fill="none" stroke="#34a33a" stroke-width="0.85" stroke-linejoin="round"/>
<path d="M517.5 171.9L519.7 176.0L515.3 176.0Z" fill="none" stroke="#34a33a" stroke-width="0.85" stroke-linejoin="round"/>
<path d="M517.5 174.1L519.7 178.2L515.3 178.2Z" fill="none" stroke="#34a33a" stroke-width="0.85" stroke-linejoin="round"/>
<path d="M545.4 172.0L547.6 176.1L543.2 176.1Z" fill="none" stroke="#34a33a" stroke-width="0.85" stroke-linejoin="round"/>
<path d="M545.4 174.1L547.6 178.2L543.2 178.2Z" fill="none" stroke="#34a33a" stroke-width="0.85" stroke-linejoin="round"/>
<path d="M548.5 171.0L550.7 175.1L546.3 175.1Z" fill="none" stroke="#34a33a" stroke-width="0.85" stroke-linejoin="round"/>
<path d="M550.5 174.1L552.7 178.2L548.3 178.2Z" fill="none" stroke="#34a33a" stroke-width="0.85" stroke-linejoin="round"/>
<path d="M573.4 171.0L575.6 175.1L571.2 175.1Z" fill="none" stroke="#34a33a" stroke-width="0.85" stroke-linejoin="round"/>
<path d="M573.4 173.5L575.6 177.6L571.2 177.6Z" fill="none" stroke="#34a33a" stroke-width="0.85" stroke-linejoin="round"/>
<path d="M576.4 173.6L578.6 177.7L574.2 177.7Z" fill="none" stroke="#34a33a" stroke-width="0.85" stroke-linejoin="round"/>
<path d="M586.7 173.6L588.9 177.7L584.5 177.7Z" fill="none" stroke="#34a33a" stroke-width="0.85" stroke-linejoin="round"/>
<path d="M615.3 171.1L617.5 175.2L613.1 175.2Z" fill="none" stroke="#34a33a" stroke-width="0.85" stroke-linejoin="round"/>
<path d="M613.0 173.7L615.2 177.8L610.8 177.8Z" fill="none" stroke="#34a33a" stroke-width="0.85" stroke-linejoin="round"/>
<path d="M624.3 172.5L626.5 176.6L622.1 176.6Z" fill="none" stroke="#34a33a" stroke-width="0.85" stroke-linejoin="round"/>
<path d="M652.0 170.5L654.2 174.6L649.8 174.6Z" fill="none" stroke="#34a33a" stroke-width="0.85" stroke-linejoin="round"/>
<path d="M652.0 172.5L654.2 176.6L649.8 176.6Z" fill="none" stroke="#34a33a" stroke-width="0.85" stroke-linejoin="round"/>
<path d="M652.0 174.5L654.2 178.6L649.8 178.6Z" fill="none" stroke="#34a33a" stroke-width="0.85" stroke-linejoin="round"/>
<path d="M670.5 171.3L672.7 175.4L668.3 175.4Z" fill="none" stroke="#34a33a" stroke-width="0.85" stroke-linejoin="round"/>
<path d="M668.5 174.3L670.7 178.4L666.3 178.4Z" fill="none" stroke="#34a33a" stroke-width="0.85" stroke-linejoin="round"/>
<path d="M672.5 174.3L674.7 178.4L670.3 178.4Z" fill="none" stroke="#34a33a" stroke-width="0.85" stroke-linejoin="round"/>
<path d="M670.5 173.1L672.7 177.2L668.3 177.2Z" fill="none" stroke="#34a33a" stroke-width="0.85" stroke-linejoin="round"/>
<path d="M400.8 173.3L403.0 177.4L398.6 177.4Z" fill="none" stroke="#a9daa8" stroke-width="0.85" stroke-linejoin="round"/>
<path d="M422.6 174.2L424.8 178.3L420.4 178.3Z" fill="none" stroke="#a9daa8" stroke-width="0.85" stroke-linejoin="round"/>
<path d="M458.8 172.3L461.0 176.4L456.6 176.4Z" fill="none" stroke="#a9daa8" stroke-width="0.85" stroke-linejoin="round"/>
<path d="M493.3 173.3L495.5 177.4L491.1 177.4Z" fill="none" stroke="#a9daa8" stroke-width="0.85" stroke-linejoin="round"/>
<path d="M502.1 173.6L504.3 177.7L499.9 177.7Z" fill="none" stroke="#a9daa8" stroke-width="0.85" stroke-linejoin="round"/>
<path d="M523.0 173.6L525.2 177.7L520.8 177.7Z" fill="none" stroke="#a9daa8" stroke-width="0.85" stroke-linejoin="round"/>
<path d="M531.3 171.0L533.5 175.1L529.1 175.1Z" fill="none" stroke="#a9daa8" stroke-width="0.85" stroke-linejoin="round"/>
<path d="M531.3 173.0L533.5 177.1L529.1 177.1Z" fill="none" stroke="#a9daa8" stroke-width="0.85" stroke-linejoin="round"/>
<path d="M552.0 170.3L554.2 174.4L549.8 174.4Z" fill="none" stroke="#a9daa8" stroke-width="0.85" stroke-linejoin="round"/>
<path d="M552.0 173.0L554.2 177.1L549.8 177.1Z" fill="none" stroke="#a9daa8" stroke-width="0.85" stroke-linejoin="round"/>
<path d="M561.7 171.9L563.9 176.0L559.5 176.0Z" fill="none" stroke="#a9daa8" stroke-width="0.85" stroke-linejoin="round"/>
<path d="M567.2 167.0L569.4 171.1L565.0 171.1Z" fill="none" stroke="#a9daa8" stroke-width="0.85" stroke-linejoin="round"/>
<path d="M567.2 169.5L569.4 173.6L565.0 173.6Z" fill="none" stroke="#a9daa8" stroke-width="0.85" stroke-linejoin="round"/>
<path d="M567.2 172.0L569.4 176.1L565.0 176.1Z" fill="none" stroke="#a9daa8" stroke-width="0.85" stroke-linejoin="round"/>
<path d="M569.5 170.5L571.7 174.6L567.3 174.6Z" fill="none" stroke="#a9daa8" stroke-width="0.85" stroke-linejoin="round"/>
<path d="M592.5 173.6L594.7 177.7L590.3 177.7Z" fill="none" stroke="#a9daa8" stroke-width="0.85" stroke-linejoin="round"/>
<path d="M609.1 173.6L611.3 177.7L606.9 177.7Z" fill="none" stroke="#a9daa8" stroke-width="0.85" stroke-linejoin="round"/>
<path d="M632.7 174.2L634.9 178.3L630.5 178.3Z" fill="none" stroke="#a9daa8" stroke-width="0.85" stroke-linejoin="round"/>
<path d="M635.8 170.1L638.0 174.2L633.6 174.2Z" fill="none" stroke="#a9daa8" stroke-width="0.85" stroke-linejoin="round"/>
<path d="M640.5 170.5L642.7 174.6L638.3 174.6Z" fill="none" stroke="#a9daa8" stroke-width="0.85" stroke-linejoin="round"/>
<path d="M642.0 172.5L644.2 176.6L639.8 176.6Z" fill="none" stroke="#a9daa8" stroke-width="0.85" stroke-linejoin="round"/>
<path d="M657.8 170.5L660.0 174.6L655.6 174.6Z" fill="none" stroke="#a9daa8" stroke-width="0.85" stroke-linejoin="round"/>
<path d="M657.8 173.5L660.0 177.6L655.6 177.6Z" fill="none" stroke="#a9daa8" stroke-width="0.85" stroke-linejoin="round"/>
<path d="M664.0 171.2L666.2 175.3L661.8 175.3Z" fill="none" stroke="#a9daa8" stroke-width="0.85" stroke-linejoin="round"/>
<path d="M664.0 173.8L666.2 177.9L661.8 177.9Z" fill="none" stroke="#a9daa8" stroke-width="0.85" stroke-linejoin="round"/>
<path d="M680.8 170.9L683.0 175.0L678.6 175.0Z" fill="none" stroke="#a9daa8" stroke-width="0.85" stroke-linejoin="round"/>
<path d="M680.8 173.6L683.0 177.7L678.6 177.7Z" fill="none" stroke="#a9daa8" stroke-width="0.85" stroke-linejoin="round"/>
<path d="M475.5 168.8 L480 178 L471 178Z" fill="#a9daa8"/>
<path d="M457.5 171.5 L461 178 L454.5 178Z" fill="#a9daa8" opacity="0.8"/>
<text x="380.0" y="212.3" font-size="6.55" fill="#111" text-anchor="start">TPMI and KoGES</text>
<line x1="379.5" y1="217.5" x2="379.5" y2="278.4" stroke="#7a7a7a" stroke-width="0.8"/>
<line x1="379.1" y1="278.0" x2="685" y2="278.0" stroke="#7a7a7a" stroke-width="0.8"/>
<line x1="377.6" y1="276.5" x2="379.5" y2="276.5" stroke="#7a7a7a" stroke-width="0.7"/>
<text x="375.0" y="279.1" font-size="6.3" fill="#1e1e1e" text-anchor="end">0</text>
<line x1="377.6" y1="263.15" x2="379.5" y2="263.15" stroke="#7a7a7a" stroke-width="0.7"/>
<text x="375.0" y="265.75" font-size="6.3" fill="#1e1e1e" text-anchor="end">10</text>
<line x1="377.6" y1="249.8" x2="379.5" y2="249.8" stroke="#7a7a7a" stroke-width="0.7"/>
<text x="375.0" y="252.4" font-size="6.3" fill="#1e1e1e" text-anchor="end">20</text>
<line x1="377.6" y1="236.45" x2="379.5" y2="236.45" stroke="#7a7a7a" stroke-width="0.7"/>
<text x="375.0" y="239.04999999999998" font-size="6.3" fill="#1e1e1e" text-anchor="end">30</text>
<line x1="377.6" y1="223.1" x2="379.5" y2="223.1" stroke="#7a7a7a" stroke-width="0.7"/>
<text x="375.0" y="225.7" font-size="6.3" fill="#1e1e1e" text-anchor="end">40</text>
<line x1="387.5" y1="278.0" x2="387.5" y2="279.8" stroke="#7a7a7a" stroke-width="0.7"/>
<text x="387.5" y="287.8" font-size="6.3" fill="#1e1e1e" text-anchor="middle">1</text>
<line x1="407.7" y1="278.0" x2="407.7" y2="279.8" stroke="#7a7a7a" stroke-width="0.7"/>
<text x="407.7" y="287.8" font-size="6.3" fill="#1e1e1e" text-anchor="middle">2</text>
<line x1="440.7" y1="278.0" x2="440.7" y2="279.8" stroke="#7a7a7a" stroke-width="0.7"/>
<text x="440.7" y="287.8" font-size="6.3" fill="#1e1e1e" text-anchor="middle">3</text>
<line x1="458.9" y1="278.0" x2="458.9" y2="279.8" stroke="#7a7a7a" stroke-width="0.7"/>
<text x="458.9" y="287.8" font-size="6.3" fill="#1e1e1e" text-anchor="middle">4</text>
<line x1="464.7" y1="278.0" x2="464.7" y2="279.8" stroke="#7a7a7a" stroke-width="0.7"/>
<text x="464.7" y="287.8" font-size="6.3" fill="#1e1e1e" text-anchor="middle">5</text>
<line x1="482.1" y1="278.0" x2="482.1" y2="279.8" stroke="#7a7a7a" stroke-width="0.7"/>
<text x="482.1" y="287.8" font-size="6.3" fill="#1e1e1e" text-anchor="middle">6</text>
<line x1="508.5" y1="278.0" x2="508.5" y2="279.8" stroke="#7a7a7a" stroke-width="0.7"/>
<text x="508.5" y="287.8" font-size="6.3" fill="#1e1e1e" text-anchor="middle">7</text>
<line x1="534.3" y1="278.0" x2="534.3" y2="279.8" stroke="#7a7a7a" stroke-width="0.7"/>
<text x="534.3" y="287.8" font-size="6.3" fill="#1e1e1e" text-anchor="middle">8</text>
<line x1="547.9" y1="278.0" x2="547.9" y2="279.8" stroke="#7a7a7a" stroke-width="0.7"/>
<text x="547.9" y="287.8" font-size="6.3" fill="#1e1e1e" text-anchor="middle">9</text>
<line x1="561.5" y1="278.0" x2="561.5" y2="279.8" stroke="#7a7a7a" stroke-width="0.7"/>
<text x="561.5" y="287.8" font-size="6.3" fill="#1e1e1e" text-anchor="middle">10</text>
<line x1="580.0" y1="278.0" x2="580.0" y2="279.8" stroke="#7a7a7a" stroke-width="0.7"/>
<text x="580.0" y="287.8" font-size="6.3" fill="#1e1e1e" text-anchor="middle">11</text>
<line x1="598.4" y1="278.0" x2="598.4" y2="279.8" stroke="#7a7a7a" stroke-width="0.7"/>
<text x="598.4" y="287.8" font-size="6.3" fill="#1e1e1e" text-anchor="middle">12</text>
<line x1="617.3" y1="278.0" x2="617.3" y2="279.8" stroke="#7a7a7a" stroke-width="0.7"/>
<text x="617.3" y="287.8" font-size="6.3" fill="#1e1e1e" text-anchor="middle">13</text>
<line x1="633.3" y1="278.0" x2="633.3" y2="279.8" stroke="#7a7a7a" stroke-width="0.7"/>
<text x="633.3" y="287.8" font-size="6.3" fill="#1e1e1e" text-anchor="middle">15</text>
<line x1="650.0" y1="278.0" x2="650.0" y2="279.8" stroke="#7a7a7a" stroke-width="0.7"/>
<text x="650.0" y="287.8" font-size="6.3" fill="#1e1e1e" text-anchor="middle">16</text>
<line x1="660.9" y1="278.0" x2="660.9" y2="279.8" stroke="#7a7a7a" stroke-width="0.7"/>
<text x="660.9" y="287.8" font-size="6.3" fill="#1e1e1e" text-anchor="middle">17</text>
<line x1="668.7" y1="278.0" x2="668.7" y2="279.8" stroke="#7a7a7a" stroke-width="0.7"/>
<line x1="677.4" y1="278.0" x2="677.4" y2="279.8" stroke="#7a7a7a" stroke-width="0.7"/>
<text x="677.4" y="287.8" font-size="6.3" fill="#1e1e1e" text-anchor="middle">20</text>
<line x1="380.0" y1="265.9" x2="685" y2="265.9" stroke="#ea3b43" stroke-width="0.95" stroke-dasharray="2.5 2.6"/>
<text x="381.7" y="263.1" font-size="6.6" fill="#e8404a" text-anchor="start">1 × 10</text>
<text x="399.8" y="259.2" font-size="4.4" fill="#e8404a" text-anchor="start">−8</text>
<text x="360.4" y="247.8" font-size="6.3" fill="#1e1e1e" text-anchor="middle" transform="rotate(-90 360.4 247.8)">−log<tspan font-size="4.4" dy="1.6">10</tspan><tspan dy="-1.6">(</tspan><tspan font-style="italic">P</tspan>)</text>
<circle cx="400.2" cy="263.1" r="1.8" fill="#f3a0a6"/>
<circle cx="423.0" cy="264.7" r="1.8" fill="#f3a0a6"/>
<circle cx="458.6" cy="248.7" r="1.8" fill="#f3a0a6"/>
<circle cx="493.3" cy="263.9" r="1.8" fill="#f3a0a6"/>
<circle cx="545.1" cy="256.3" r="1.8" fill="#f3a0a6"/>
<circle cx="552.1" cy="220.4" r="1.8" fill="#f3a0a6"/>
<circle cx="552.1" cy="226.2" r="1.8" fill="#f3a0a6"/>
<circle cx="552.1" cy="228.4" r="1.8" fill="#f3a0a6"/>
<circle cx="552.1" cy="250.4" r="1.8" fill="#f3a0a6"/>
<circle cx="552.1" cy="252.3" r="1.8" fill="#f3a0a6"/>
<circle cx="561.9" cy="263.4" r="1.8" fill="#f3a0a6"/>
<circle cx="567.5" cy="246.7" r="1.8" fill="#f3a0a6"/>
<circle cx="567.5" cy="253.6" r="1.8" fill="#f3a0a6"/>
<circle cx="567.5" cy="255.6" r="1.8" fill="#f3a0a6"/>
<circle cx="567.5" cy="257.3" r="1.8" fill="#f3a0a6"/>
<circle cx="571.2" cy="258.0" r="1.8" fill="#f3a0a6"/>
<circle cx="592.6" cy="243.7" r="1.8" fill="#f3a0a6"/>
<circle cx="592.6" cy="262.2" r="1.8" fill="#f3a0a6"/>
<circle cx="609.3" cy="263.3" r="1.8" fill="#f3a0a6"/>
<circle cx="609.3" cy="264.8" r="1.8" fill="#f3a0a6"/>
<circle cx="632.4" cy="264.2" r="1.8" fill="#f3a0a6"/>
<circle cx="636.3" cy="263.1" r="1.8" fill="#f3a0a6"/>
<circle cx="639.4" cy="259.2" r="1.8" fill="#f3a0a6"/>
<circle cx="641.4" cy="264.0" r="1.8" fill="#f3a0a6"/>
<circle cx="641.4" cy="265.6" r="1.8" fill="#f3a0a6"/>
<circle cx="658.5" cy="255.5" r="1.8" fill="#f3a0a6"/>
<circle cx="657.7" cy="264.7" r="1.8" fill="#f3a0a6"/>
<circle cx="681.0" cy="262.2" r="1.8" fill="#f3a0a6"/>
<circle cx="681.0" cy="263.9" r="1.8" fill="#f3a0a6"/>
<circle cx="459.60" cy="255.50" r="1.6" fill="#f3a0a6"/>
<circle cx="459.60" cy="257.52" r="1.6" fill="#f3a0a6"/>
<circle cx="459.60" cy="259.54" r="1.6" fill="#f3a0a6"/>
<circle cx="459.60" cy="261.56" r="1.6" fill="#f3a0a6"/>
<circle cx="459.60" cy="263.58" r="1.6" fill="#f3a0a6"/>
<circle cx="459.60" cy="265.60" r="1.6" fill="#f3a0a6"/>
<circle cx="531.00" cy="258.00" r="1.6" fill="#f3a0a6"/>
<circle cx="531.00" cy="259.68" r="1.6" fill="#f3a0a6"/>
<circle cx="531.00" cy="261.35" r="1.6" fill="#f3a0a6"/>
<circle cx="531.00" cy="263.02" r="1.6" fill="#f3a0a6"/>
<circle cx="531.00" cy="264.70" r="1.6" fill="#f3a0a6"/>
<circle cx="664.50" cy="253.00" r="1.6" fill="#f3a0a6"/>
<circle cx="664.50" cy="254.84" r="1.6" fill="#f3a0a6"/>
<circle cx="664.50" cy="256.68" r="1.6" fill="#f3a0a6"/>
<circle cx="664.50" cy="258.52" r="1.6" fill="#f3a0a6"/>
<circle cx="664.50" cy="260.36" r="1.6" fill="#f3a0a6"/>
<circle cx="664.50" cy="262.20" r="1.6" fill="#f3a0a6"/>
<path d="M472.2 266.8 L472.4 252 Q473 248 475.2 246 Q477.8 245.2 478.2 248 L478.6 266.8Z" fill="#f3a0a6"/>
<circle cx="391.8" cy="252.6" r="1.8" fill="#e3141c"/>
<circle cx="391.8" cy="255.2" r="1.8" fill="#e3141c"/>
<circle cx="391.8" cy="260.2" r="1.8" fill="#e3141c"/>
<circle cx="391.8" cy="264.7" r="1.8" fill="#e3141c"/>
<circle cx="427.7" cy="252.9" r="1.8" fill="#e3141c"/>
<circle cx="427.7" cy="258.5" r="1.8" fill="#e3141c"/>
<circle cx="427.7" cy="262.2" r="1.8" fill="#e3141c"/>
<circle cx="427.7" cy="265.6" r="1.8" fill="#e3141c"/>
<circle cx="435.3" cy="259.7" r="1.8" fill="#e3141c"/>
<circle cx="435.3" cy="262.6" r="1.8" fill="#e3141c"/>
<circle cx="435.3" cy="265.3" r="1.8" fill="#e3141c"/>
<circle cx="457.8" cy="230.4" r="1.8" fill="#e3141c"/>
<circle cx="457.8" cy="232.6" r="1.8" fill="#e3141c"/>
<circle cx="457.8" cy="234.8" r="1.8" fill="#e3141c"/>
<circle cx="457.8" cy="236.9" r="1.8" fill="#e3141c"/>
<circle cx="457.8" cy="255.7" r="1.8" fill="#e3141c"/>
<circle cx="457.8" cy="258.5" r="1.8" fill="#e3141c"/>
<circle cx="457.8" cy="261.2" r="1.8" fill="#e3141c"/>
<circle cx="457.8" cy="263.9" r="1.8" fill="#e3141c"/>
<circle cx="469.6" cy="254.6" r="1.8" fill="#e3141c"/>
<circle cx="469.6" cy="259.7" r="1.8" fill="#e3141c"/>
<circle cx="469.6" cy="262.2" r="1.8" fill="#e3141c"/>
<circle cx="496.7" cy="260.6" r="1.8" fill="#e3141c"/>
<circle cx="496.7" cy="263.0" r="1.8" fill="#e3141c"/>
<circle cx="496.7" cy="264.7" r="1.8" fill="#e3141c"/>
<circle cx="502.1" cy="265.3" r="1.8" fill="#e3141c"/>
<circle cx="523.2" cy="265.6" r="1.8" fill="#e3141c"/>
<circle cx="546.7" cy="247.2" r="1.8" fill="#e3141c"/>
<circle cx="546.7" cy="249.5" r="1.8" fill="#e3141c"/>
<circle cx="546.7" cy="252.3" r="1.8" fill="#e3141c"/>
<circle cx="550.1" cy="246.7" r="1.8" fill="#e3141c"/>
<circle cx="546.5" cy="258.6" r="1.8" fill="#e3141c"/>
<circle cx="550.3" cy="258.2" r="1.8" fill="#e3141c"/>
<circle cx="586.4" cy="259.9" r="1.8" fill="#e3141c"/>
<circle cx="586.4" cy="262.3" r="1.8" fill="#e3141c"/>
<circle cx="586.4" cy="264.7" r="1.8" fill="#e3141c"/>
<circle cx="616.1" cy="257.2" r="1.8" fill="#e3141c"/>
<circle cx="614.7" cy="265.9" r="1.8" fill="#e3141c"/>
<circle cx="517.5" cy="242.9" r="1.8" fill="#e3141c"/>
<circle cx="517.5" cy="245.2" r="1.8" fill="#e3141c"/>
<circle cx="517.5" cy="252.6" r="1.8" fill="#e3141c"/>
<circle cx="517.5" cy="257.5" r="1.8" fill="#e3141c"/>
<circle cx="517.5" cy="259.5" r="1.8" fill="#e3141c"/>
<circle cx="517.5" cy="261.5" r="1.8" fill="#e3141c"/>
<circle cx="517.5" cy="263.5" r="1.8" fill="#e3141c"/>
<circle cx="517.5" cy="265.5" r="1.8" fill="#e3141c"/>
<circle cx="624.8" cy="263.1" r="1.8" fill="#e3141c"/>
<circle cx="668.3" cy="260.7" r="1.8" fill="#e3141c"/>
<circle cx="668.3" cy="263.6" r="1.8" fill="#e3141c"/>
<circle cx="671.2" cy="263.9" r="1.8" fill="#e3141c"/>
<circle cx="673.4" cy="264.2" r="1.8" fill="#e3141c"/>
<circle cx="546.20" cy="261.50" r="1.6" fill="#e3141c"/>
<circle cx="546.20" cy="263.55" r="1.6" fill="#e3141c"/>
<circle cx="546.20" cy="265.60" r="1.6" fill="#e3141c"/>
<circle cx="549.80" cy="262.50" r="1.6" fill="#e3141c"/>
<circle cx="549.80" cy="264.05" r="1.6" fill="#e3141c"/>
<circle cx="549.80" cy="265.60" r="1.6" fill="#e3141c"/>
<circle cx="574.60" cy="261.50" r="1.6" fill="#e3141c"/>
<circle cx="574.60" cy="263.75" r="1.6" fill="#e3141c"/>
<circle cx="574.60" cy="266.00" r="1.6" fill="#e3141c"/>
<circle cx="576.90" cy="259.00" r="1.6" fill="#e3141c"/>
<circle cx="576.90" cy="260.83" r="1.6" fill="#e3141c"/>
<circle cx="576.90" cy="262.67" r="1.6" fill="#e3141c"/>
<circle cx="576.90" cy="264.50" r="1.6" fill="#e3141c"/>
<circle cx="652.20" cy="261.40" r="1.6" fill="#e3141c"/>
<circle cx="652.20" cy="263.07" r="1.6" fill="#e3141c"/>
<circle cx="652.20" cy="264.73" r="1.6" fill="#e3141c"/>
<circle cx="652.20" cy="266.40" r="1.6" fill="#e3141c"/>
<circle cx="651.60" cy="261.40" r="1.6" fill="#e3141c"/>
<circle cx="651.60" cy="263.07" r="1.6" fill="#e3141c"/>
<circle cx="651.60" cy="264.73" r="1.6" fill="#e3141c"/>
<circle cx="651.60" cy="266.40" r="1.6" fill="#e3141c"/>
<path d="M389.4 272.5H394.2M391.8 270.1V274.9" stroke="#8a3ca6" stroke-width="0.8"/>
<path d="M389.4 274.0H394.2M391.8 271.6V276.4" stroke="#8a3ca6" stroke-width="0.8"/>
<path d="M389.4 275.5H394.2M391.8 273.1V277.9" stroke="#8a3ca6" stroke-width="0.8"/>
<path d="M425.3 269.3H430.1M427.7 266.9V271.7" stroke="#8a3ca6" stroke-width="0.8"/>
<path d="M425.3 271.3H430.1M427.7 268.9V273.7" stroke="#8a3ca6" stroke-width="0.8"/>
<path d="M432.9 271.5H437.7M435.3 269.1V273.9" stroke="#8a3ca6" stroke-width="0.8"/>
<path d="M432.9 274.0H437.7M435.3 271.6V276.4" stroke="#8a3ca6" stroke-width="0.8"/>
<path d="M455.4 269.3H460.2M457.8 266.9V271.7" stroke="#8a3ca6" stroke-width="0.8"/>
<path d="M467.2 271.5H472.0M469.6 269.1V273.9" stroke="#8a3ca6" stroke-width="0.8"/>
<path d="M467.2 274.9H472.0M469.6 272.5V277.3" stroke="#8a3ca6" stroke-width="0.8"/>
<path d="M494.3 268.6H499.1M496.7 266.2V271.0" stroke="#8a3ca6" stroke-width="0.8"/>
<path d="M494.3 273.7H499.1M496.7 271.3V276.1" stroke="#8a3ca6" stroke-width="0.8"/>
<path d="M499.7 276.0H504.5M502.1 273.6V278.4" stroke="#8a3ca6" stroke-width="0.8"/>
<path d="M515.1 270.5H519.9M517.5 268.1V272.9" stroke="#8a3ca6" stroke-width="0.8"/>
<path d="M515.1 272.5H519.9M517.5 270.1V274.9" stroke="#8a3ca6" stroke-width="0.8"/>
<path d="M515.1 274.5H519.9M517.5 272.1V276.9" stroke="#8a3ca6" stroke-width="0.8"/>
<path d="M543.1 270.0H547.9M545.5 267.6V272.4" stroke="#8a3ca6" stroke-width="0.8"/>
<path d="M543.1 272.5H547.9M545.5 270.1V274.9" stroke="#8a3ca6" stroke-width="0.8"/>
<path d="M546.1 275.0H550.9M548.5 272.6V277.4" stroke="#8a3ca6" stroke-width="0.8"/>
<path d="M547.6 271.0H552.4M550.0 268.6V273.4" stroke="#8a3ca6" stroke-width="0.8"/>
<path d="M544.1 271.5H548.9M546.5 269.1V273.9" stroke="#8a3ca6" stroke-width="0.8"/>
<path d="M545.1 273.5H549.9M547.5 271.1V275.9" stroke="#8a3ca6" stroke-width="0.8"/>
<path d="M547.1 272.5H551.9M549.5 270.1V274.9" stroke="#8a3ca6" stroke-width="0.8"/>
<path d="M543.4 274.5H548.2M545.8 272.1V276.9" stroke="#8a3ca6" stroke-width="0.8"/>
<path d="M571.3 274.9H576.1M573.7 272.5V277.3" stroke="#8a3ca6" stroke-width="0.8"/>
<path d="M570.8 274.2H575.6M573.2 271.8V276.6" stroke="#8a3ca6" stroke-width="0.8"/>
<path d="M571.9 275.6H576.7M574.3 273.2V278.0" stroke="#8a3ca6" stroke-width="0.8"/>
<path d="M573.9 269.8H578.7M576.3 267.4V272.2" stroke="#8a3ca6" stroke-width="0.8"/>
<path d="M584.0 274.0H588.8M586.4 271.6V276.4" stroke="#8a3ca6" stroke-width="0.8"/>
<path d="M612.8 274.0H617.6M615.2 271.6V276.4" stroke="#8a3ca6" stroke-width="0.8"/>
<path d="M622.4 273.7H627.2M624.8 271.3V276.1" stroke="#8a3ca6" stroke-width="0.8"/>
<path d="M622.4 276.0H627.2M624.8 273.6V278.4" stroke="#8a3ca6" stroke-width="0.8"/>
<path d="M647.9 270.6H652.7M650.3 268.2V273.0" stroke="#8a3ca6" stroke-width="0.8"/>
<path d="M651.2 270.6H656.0M653.6 268.2V273.0" stroke="#8a3ca6" stroke-width="0.8"/>
<path d="M667.1 274.0H671.9M669.5 271.6V276.4" stroke="#8a3ca6" stroke-width="0.8"/>
<path d="M668.8 273.2H673.6M671.2 270.8V275.6" stroke="#8a3ca6" stroke-width="0.8"/>
<path d="M665.4 276.0H670.2M667.8 273.6V278.4" stroke="#8a3ca6" stroke-width="0.8"/>
<path d="M671.0 274.4H675.8M673.4 272.0V276.8" stroke="#8a3ca6" stroke-width="0.8"/>
<path d="M397.8 275.4H402.6M400.2 273.0V277.8" stroke="#d2b2dd" stroke-width="0.8"/>
<path d="M420.6 276.0H425.4M423.0 273.6V278.4" stroke="#d2b2dd" stroke-width="0.8"/>
<path d="M456.4 271.5H461.2M458.8 269.1V273.9" stroke="#d2b2dd" stroke-width="0.8"/>
<path d="M456.4 273.5H461.2M458.8 271.1V275.9" stroke="#d2b2dd" stroke-width="0.8"/>
<path d="M456.4 275.7H461.2M458.8 273.3V278.1" stroke="#d2b2dd" stroke-width="0.8"/>
<path d="M473.1 268.0H477.9M475.5 265.6V270.4" stroke="#d2b2dd" stroke-width="0.8"/>
<path d="M473.1 270.3H477.9M475.5 267.9V272.7" stroke="#d2b2dd" stroke-width="0.8"/>
<path d="M473.1 272.6H477.9M475.5 270.2V275.0" stroke="#d2b2dd" stroke-width="0.8"/>
<path d="M473.1 275.0H477.9M475.5 272.6V277.4" stroke="#d2b2dd" stroke-width="0.8"/>
<path d="M475.6 271.5H480.4M478.0 269.1V273.9" stroke="#d2b2dd" stroke-width="0.8"/>
<path d="M475.6 274.5H480.4M478.0 272.1V276.9" stroke="#d2b2dd" stroke-width="0.8"/>
<path d="M491.0 274.4H495.8M493.4 272.0V276.8" stroke="#d2b2dd" stroke-width="0.8"/>
<path d="M520.8 275.4H525.6M523.2 273.0V277.8" stroke="#d2b2dd" stroke-width="0.8"/>
<path d="M528.6 270.6H533.4M531.0 268.2V273.0" stroke="#d2b2dd" stroke-width="0.8"/>
<path d="M528.6 273.0H533.4M531.0 270.6V275.4" stroke="#d2b2dd" stroke-width="0.8"/>
<path d="M528.6 275.5H533.4M531.0 273.1V277.9" stroke="#d2b2dd" stroke-width="0.8"/>
<path d="M549.6 268.5H554.4M552.0 266.1V270.9" stroke="#d2b2dd" stroke-width="0.8"/>
<path d="M549.6 271.5H554.4M552.0 269.1V273.9" stroke="#d2b2dd" stroke-width="0.8"/>
<path d="M549.6 274.5H554.4M552.0 272.1V276.9" stroke="#d2b2dd" stroke-width="0.8"/>
<path d="M559.5 275.7H564.3M561.9 273.3V278.1" stroke="#d2b2dd" stroke-width="0.8"/>
<path d="M565.1 273.2H569.9M567.5 270.8V275.6" stroke="#d2b2dd" stroke-width="0.8"/>
<path d="M560.1 273.0H564.9M562.5 270.6V275.4" stroke="#d2b2dd" stroke-width="0.8"/>
<path d="M569.1 269.8H573.9M571.5 267.4V272.2" stroke="#d2b2dd" stroke-width="0.8"/>
<path d="M590.2 269.8H595.0M592.6 267.4V272.2" stroke="#d2b2dd" stroke-width="0.8"/>
<path d="M590.2 274.9H595.0M592.6 272.5V277.3" stroke="#d2b2dd" stroke-width="0.8"/>
<path d="M606.9 269.8H611.7M609.3 267.4V272.2" stroke="#d2b2dd" stroke-width="0.8"/>
<path d="M606.9 274.0H611.7M609.3 271.6V276.4" stroke="#d2b2dd" stroke-width="0.8"/>
<path d="M610.1 273.0H614.9M612.5 270.6V275.4" stroke="#d2b2dd" stroke-width="0.8"/>
<path d="M630.0 273.7H634.8M632.4 271.3V276.1" stroke="#d2b2dd" stroke-width="0.8"/>
<path d="M634.1 272.8H638.9M636.5 270.4V275.2" stroke="#d2b2dd" stroke-width="0.8"/>
<path d="M637.1 273.5H641.9M639.5 271.1V275.9" stroke="#d2b2dd" stroke-width="0.8"/>
<path d="M640.1 272.8H644.9M642.5 270.4V275.2" stroke="#d2b2dd" stroke-width="0.8"/>
<path d="M642.6 274.0H647.4M645.0 271.6V276.4" stroke="#d2b2dd" stroke-width="0.8"/>
<path d="M654.5 269.8H659.3M656.9 267.4V272.2" stroke="#d2b2dd" stroke-width="0.8"/>
<path d="M654.5 274.9H659.3M656.9 272.5V277.3" stroke="#d2b2dd" stroke-width="0.8"/>
<path d="M662.1 267.5H666.9M664.5 265.1V269.9" stroke="#d2b2dd" stroke-width="0.8"/>
<path d="M662.1 270.2H666.9M664.5 267.8V272.6" stroke="#d2b2dd" stroke-width="0.8"/>
<path d="M678.6 270.8H683.4M681.0 268.4V273.2" stroke="#d2b2dd" stroke-width="0.8"/>
<path d="M678.6 273.2H683.4M681.0 270.8V275.6" stroke="#d2b2dd" stroke-width="0.8"/>
<text x="380.0" y="311.6" font-size="6.55" fill="#111" text-anchor="start">TPMI and UKB</text>
<line x1="380.3" y1="316.2" x2="380.3" y2="377.7" stroke="#7a7a7a" stroke-width="0.8"/>
<line x1="379.90000000000003" y1="377.3" x2="681.9" y2="377.3" stroke="#7a7a7a" stroke-width="0.8"/>
<line x1="378.40000000000003" y1="376.1" x2="380.3" y2="376.1" stroke="#7a7a7a" stroke-width="0.7"/>
<text x="375.8" y="378.70000000000005" font-size="6.3" fill="#1e1e1e" text-anchor="end">0</text>
<line x1="378.40000000000003" y1="364.46000000000004" x2="380.3" y2="364.46000000000004" stroke="#7a7a7a" stroke-width="0.7"/>
<text x="375.8" y="367.06000000000006" font-size="6.3" fill="#1e1e1e" text-anchor="end">25</text>
<line x1="378.40000000000003" y1="352.82000000000005" x2="380.3" y2="352.82000000000005" stroke="#7a7a7a" stroke-width="0.7"/>
<text x="375.8" y="355.4200000000001" font-size="6.3" fill="#1e1e1e" text-anchor="end">50</text>
<line x1="378.40000000000003" y1="341.18" x2="380.3" y2="341.18" stroke="#7a7a7a" stroke-width="0.7"/>
<text x="375.8" y="343.78000000000003" font-size="6.3" fill="#1e1e1e" text-anchor="end">75</text>
<line x1="378.40000000000003" y1="329.54" x2="380.3" y2="329.54" stroke="#7a7a7a" stroke-width="0.7"/>
<text x="375.8" y="332.14000000000004" font-size="6.3" fill="#1e1e1e" text-anchor="end">100</text>
<line x1="378.40000000000003" y1="317.90000000000003" x2="380.3" y2="317.90000000000003" stroke="#7a7a7a" stroke-width="0.7"/>
<text x="375.8" y="320.50000000000006" font-size="6.3" fill="#1e1e1e" text-anchor="end">125</text>
<line x1="388.3" y1="377.3" x2="388.3" y2="379.1" stroke="#7a7a7a" stroke-width="0.7"/>
<text x="388.3" y="386.7" font-size="6.3" fill="#1e1e1e" text-anchor="middle">1</text>
<line x1="408.5" y1="377.3" x2="408.5" y2="379.1" stroke="#7a7a7a" stroke-width="0.7"/>
<text x="408.5" y="386.7" font-size="6.3" fill="#1e1e1e" text-anchor="middle">2</text>
<line x1="440.8" y1="377.3" x2="440.8" y2="379.1" stroke="#7a7a7a" stroke-width="0.7"/>
<text x="440.8" y="386.7" font-size="6.3" fill="#1e1e1e" text-anchor="middle">3</text>
<line x1="458.5" y1="377.3" x2="458.5" y2="379.1" stroke="#7a7a7a" stroke-width="0.7"/>
<text x="458.5" y="386.7" font-size="6.3" fill="#1e1e1e" text-anchor="middle">4</text>
<line x1="464.6" y1="377.3" x2="464.6" y2="379.1" stroke="#7a7a7a" stroke-width="0.7"/>
<text x="464.6" y="386.7" font-size="6.3" fill="#1e1e1e" text-anchor="middle">5</text>
<line x1="481.7" y1="377.3" x2="481.7" y2="379.1" stroke="#7a7a7a" stroke-width="0.7"/>
<text x="481.7" y="386.7" font-size="6.3" fill="#1e1e1e" text-anchor="middle">6</text>
<line x1="507.8" y1="377.3" x2="507.8" y2="379.1" stroke="#7a7a7a" stroke-width="0.7"/>
<text x="507.8" y="386.7" font-size="6.3" fill="#1e1e1e" text-anchor="middle">7</text>
<line x1="533.4" y1="377.3" x2="533.4" y2="379.1" stroke="#7a7a7a" stroke-width="0.7"/>
<text x="533.4" y="386.7" font-size="6.3" fill="#1e1e1e" text-anchor="middle">8</text>
<line x1="546.5" y1="377.3" x2="546.5" y2="379.1" stroke="#7a7a7a" stroke-width="0.7"/>
<text x="546.5" y="386.7" font-size="6.3" fill="#1e1e1e" text-anchor="middle">9</text>
<line x1="560.4" y1="377.3" x2="560.4" y2="379.1" stroke="#7a7a7a" stroke-width="0.7"/>
<text x="560.4" y="386.7" font-size="6.3" fill="#1e1e1e" text-anchor="middle">10</text>
<line x1="577.7" y1="377.3" x2="577.7" y2="379.1" stroke="#7a7a7a" stroke-width="0.7"/>
<text x="577.7" y="386.7" font-size="6.3" fill="#1e1e1e" text-anchor="middle">11</text>
<line x1="596.4" y1="377.3" x2="596.4" y2="379.1" stroke="#7a7a7a" stroke-width="0.7"/>
<text x="596.4" y="386.7" font-size="6.3" fill="#1e1e1e" text-anchor="middle">12</text>
<line x1="615.3" y1="377.3" x2="615.3" y2="379.1" stroke="#7a7a7a" stroke-width="0.7"/>
<text x="615.3" y="386.7" font-size="6.3" fill="#1e1e1e" text-anchor="middle">13</text>
<line x1="631.1" y1="377.3" x2="631.1" y2="379.1" stroke="#7a7a7a" stroke-width="0.7"/>
<text x="631.1" y="386.7" font-size="6.3" fill="#1e1e1e" text-anchor="middle">15</text>
<line x1="647.4" y1="377.3" x2="647.4" y2="379.1" stroke="#7a7a7a" stroke-width="0.7"/>
<text x="647.4" y="386.7" font-size="6.3" fill="#1e1e1e" text-anchor="middle">16</text>
<line x1="658.1" y1="377.3" x2="658.1" y2="379.1" stroke="#7a7a7a" stroke-width="0.7"/>
<text x="658.1" y="386.7" font-size="6.3" fill="#1e1e1e" text-anchor="middle">17</text>
<line x1="665.5" y1="377.3" x2="665.5" y2="379.1" stroke="#7a7a7a" stroke-width="0.7"/>
<line x1="674.4" y1="377.3" x2="674.4" y2="379.1" stroke="#7a7a7a" stroke-width="0.7"/>
<text x="674.4" y="386.7" font-size="6.3" fill="#1e1e1e" text-anchor="middle">20</text>
<line x1="380.8" y1="372.4" x2="681.9" y2="372.4" stroke="#ea3b43" stroke-width="0.95" stroke-dasharray="2.5 2.6"/>
<text x="381.7" y="365.2" font-size="6.6" fill="#e8404a" text-anchor="start">1 × 10</text>
<text x="399.8" y="361.29999999999995" font-size="4.4" fill="#e8404a" text-anchor="start">−8</text>
<text x="360.4" y="346.8" font-size="6.3" fill="#1e1e1e" text-anchor="middle" transform="rotate(-90 360.4 346.8)">−log<tspan font-size="4.4" dy="1.6">10</tspan><tspan dy="-1.6">(</tspan><tspan font-style="italic">P</tspan>)</text>
<text x="531" y="396.6" font-size="6.6" fill="#1e1e1e" text-anchor="middle">Chromosome</text>
<circle cx="401.2" cy="370.8" r="1.8" fill="#f3a0a6"/>
<circle cx="422.7" cy="371.7" r="1.8" fill="#f3a0a6"/>
<circle cx="473.4" cy="342.1" r="1.8" fill="#f3a0a6"/>
<circle cx="492.3" cy="371.4" r="1.8" fill="#f3a0a6"/>
<circle cx="492.6" cy="371.4" r="1.8" fill="#f3a0a6"/>
<circle cx="530.2" cy="369.8" r="1.8" fill="#f3a0a6"/>
<circle cx="530.2" cy="371.5" r="1.8" fill="#f3a0a6"/>
<circle cx="543.9" cy="355.0" r="1.8" fill="#f3a0a6"/>
<circle cx="543.9" cy="355.5" r="1.8" fill="#f3a0a6"/>
<circle cx="550.9" cy="356.9" r="1.8" fill="#f3a0a6"/>
<circle cx="550.9" cy="359.2" r="1.8" fill="#f3a0a6"/>
<circle cx="552.0" cy="368.2" r="1.8" fill="#f3a0a6"/>
<circle cx="560.3" cy="371.4" r="1.8" fill="#f3a0a6"/>
<circle cx="569.1" cy="369.1" r="1.8" fill="#f3a0a6"/>
<circle cx="590.6" cy="364.7" r="1.8" fill="#f3a0a6"/>
<circle cx="590.6" cy="370.8" r="1.8" fill="#f3a0a6"/>
<circle cx="607.0" cy="371.4" r="1.8" fill="#f3a0a6"/>
<circle cx="629.4" cy="371.4" r="1.8" fill="#f3a0a6"/>
<circle cx="633.4" cy="370.8" r="1.8" fill="#f3a0a6"/>
<circle cx="636.4" cy="369.6" r="1.8" fill="#f3a0a6"/>
<circle cx="639.1" cy="371.4" r="1.8" fill="#f3a0a6"/>
<circle cx="654.6" cy="370.8" r="1.8" fill="#f3a0a6"/>
<circle cx="636.3" cy="370.3" r="1.8" fill="#f3a0a6"/>
<circle cx="653.9" cy="371.6" r="1.8" fill="#f3a0a6"/>
<circle cx="655.8" cy="368.0" r="1.8" fill="#f3a0a6"/>
<circle cx="677.8" cy="370.9" r="1.8" fill="#f3a0a6"/>
<circle cx="458.50" cy="366.40" r="1.6" fill="#f3a0a6"/>
<circle cx="458.50" cy="368.00" r="1.6" fill="#f3a0a6"/>
<circle cx="458.50" cy="369.60" r="1.6" fill="#f3a0a6"/>
<circle cx="458.50" cy="371.20" r="1.6" fill="#f3a0a6"/>
<circle cx="457.60" cy="368.00" r="1.6" fill="#f3a0a6"/>
<circle cx="457.60" cy="369.60" r="1.6" fill="#f3a0a6"/>
<circle cx="457.60" cy="371.20" r="1.6" fill="#f3a0a6"/>
<circle cx="459.40" cy="368.00" r="1.6" fill="#f3a0a6"/>
<circle cx="459.40" cy="369.60" r="1.6" fill="#f3a0a6"/>
<circle cx="459.40" cy="371.20" r="1.6" fill="#f3a0a6"/>
<circle cx="473.20" cy="348.80" r="1.6" fill="#f3a0a6"/>
<circle cx="473.20" cy="350.73" r="1.6" fill="#f3a0a6"/>
<circle cx="473.20" cy="352.67" r="1.6" fill="#f3a0a6"/>
<circle cx="473.20" cy="354.60" r="1.6" fill="#f3a0a6"/>
<circle cx="565.90" cy="363.80" r="1.6" fill="#f3a0a6"/>
<circle cx="565.90" cy="365.55" r="1.6" fill="#f3a0a6"/>
<circle cx="565.90" cy="367.30" r="1.6" fill="#f3a0a6"/>
<circle cx="661.20" cy="364.60" r="1.6" fill="#f3a0a6"/>
<circle cx="661.20" cy="366.70" r="1.6" fill="#f3a0a6"/>
<circle cx="661.20" cy="368.80" r="1.6" fill="#f3a0a6"/>
<circle cx="661.20" cy="370.90" r="1.6" fill="#f3a0a6"/>
<circle cx="473.20" cy="360.50" r="1.6" fill="#f3a0a6"/>
<circle cx="473.20" cy="362.33" r="1.6" fill="#f3a0a6"/>
<circle cx="473.20" cy="364.17" r="1.6" fill="#f3a0a6"/>
<circle cx="473.20" cy="366.00" r="1.6" fill="#f3a0a6"/>
<circle cx="473.20" cy="367.83" r="1.6" fill="#f3a0a6"/>
<circle cx="473.20" cy="369.67" r="1.6" fill="#f3a0a6"/>
<circle cx="473.20" cy="371.50" r="1.6" fill="#f3a0a6"/>
<circle cx="475.20" cy="364.00" r="1.6" fill="#f3a0a6"/>
<circle cx="475.20" cy="365.88" r="1.6" fill="#f3a0a6"/>
<circle cx="475.20" cy="367.75" r="1.6" fill="#f3a0a6"/>
<circle cx="475.20" cy="369.62" r="1.6" fill="#f3a0a6"/>
<circle cx="475.20" cy="371.50" r="1.6" fill="#f3a0a6"/>
<circle cx="476.20" cy="366.00" r="1.6" fill="#f3a0a6"/>
<circle cx="476.20" cy="367.83" r="1.6" fill="#f3a0a6"/>
<circle cx="476.20" cy="369.67" r="1.6" fill="#f3a0a6"/>
<circle cx="476.20" cy="371.50" r="1.6" fill="#f3a0a6"/>
<circle cx="457.0" cy="359.6" r="1.8" fill="#e3141c"/>
<circle cx="457.0" cy="362.6" r="1.8" fill="#e3141c"/>
<circle cx="457.0" cy="368.4" r="1.8" fill="#e3141c"/>
<circle cx="457.0" cy="372.2" r="1.8" fill="#e3141c"/>
<circle cx="469.4" cy="367.6" r="1.8" fill="#e3141c"/>
<circle cx="469.4" cy="371.4" r="1.8" fill="#e3141c"/>
<circle cx="496.2" cy="370.8" r="1.8" fill="#e3141c"/>
<circle cx="501.5" cy="371.7" r="1.8" fill="#e3141c"/>
<circle cx="516.5" cy="335.2" r="1.8" fill="#e3141c"/>
<circle cx="521.7" cy="372.4" r="1.8" fill="#e3141c"/>
<circle cx="548.3" cy="336.5" r="1.8" fill="#e3141c"/>
<circle cx="548.3" cy="347.0" r="1.8" fill="#e3141c"/>
<circle cx="548.3" cy="353.2" r="1.8" fill="#e3141c"/>
<circle cx="571.7" cy="319.6" r="1.8" fill="#e3141c"/>
<circle cx="571.7" cy="321.8" r="1.8" fill="#e3141c"/>
<circle cx="571.7" cy="330.8" r="1.8" fill="#e3141c"/>
<circle cx="571.7" cy="338.0" r="1.8" fill="#e3141c"/>
<circle cx="571.7" cy="340.8" r="1.8" fill="#e3141c"/>
<circle cx="571.7" cy="344.7" r="1.8" fill="#e3141c"/>
<circle cx="571.7" cy="354.1" r="1.8" fill="#e3141c"/>
<circle cx="585.0" cy="370.2" r="1.8" fill="#e3141c"/>
<circle cx="585.0" cy="371.7" r="1.8" fill="#e3141c"/>
<circle cx="613.2" cy="369.1" r="1.8" fill="#e3141c"/>
<circle cx="612.3" cy="372.1" r="1.8" fill="#e3141c"/>
<circle cx="621.8" cy="371.4" r="1.8" fill="#e3141c"/>
<circle cx="648.8" cy="370.8" r="1.8" fill="#e3141c"/>
<circle cx="649.5" cy="370.6" r="1.8" fill="#e3141c"/>
<circle cx="649.5" cy="372.2" r="1.8" fill="#e3141c"/>
<circle cx="665.2" cy="370.6" r="1.8" fill="#e3141c"/>
<circle cx="669.0" cy="371.3" r="1.8" fill="#e3141c"/>
<circle cx="667.1" cy="372.0" r="1.8" fill="#e3141c"/>
<circle cx="392.30" cy="366.60" r="1.6" fill="#e3141c"/>
<circle cx="392.30" cy="368.57" r="1.6" fill="#e3141c"/>
<circle cx="392.30" cy="370.53" r="1.6" fill="#e3141c"/>
<circle cx="392.30" cy="372.50" r="1.6" fill="#e3141c"/>
<circle cx="427.60" cy="366.60" r="1.6" fill="#e3141c"/>
<circle cx="427.60" cy="368.70" r="1.6" fill="#e3141c"/>
<circle cx="427.60" cy="370.80" r="1.6" fill="#e3141c"/>
<circle cx="427.60" cy="372.90" r="1.6" fill="#e3141c"/>
<circle cx="435.20" cy="368.80" r="1.6" fill="#e3141c"/>
<circle cx="435.20" cy="370.65" r="1.6" fill="#e3141c"/>
<circle cx="435.20" cy="372.50" r="1.6" fill="#e3141c"/>
<circle cx="516.50" cy="364.00" r="1.6" fill="#e3141c"/>
<circle cx="516.50" cy="366.12" r="1.6" fill="#e3141c"/>
<circle cx="516.50" cy="368.25" r="1.6" fill="#e3141c"/>
<circle cx="516.50" cy="370.38" r="1.6" fill="#e3141c"/>
<circle cx="516.50" cy="372.50" r="1.6" fill="#e3141c"/>
<circle cx="544.60" cy="365.60" r="1.6" fill="#e3141c"/>
<circle cx="544.60" cy="367.33" r="1.6" fill="#e3141c"/>
<circle cx="544.60" cy="369.05" r="1.6" fill="#e3141c"/>
<circle cx="544.60" cy="370.77" r="1.6" fill="#e3141c"/>
<circle cx="544.60" cy="372.50" r="1.6" fill="#e3141c"/>
<circle cx="548.30" cy="365.60" r="1.6" fill="#e3141c"/>
<circle cx="548.30" cy="367.33" r="1.6" fill="#e3141c"/>
<circle cx="548.30" cy="369.05" r="1.6" fill="#e3141c"/>
<circle cx="548.30" cy="370.77" r="1.6" fill="#e3141c"/>
<circle cx="548.30" cy="372.50" r="1.6" fill="#e3141c"/>
<circle cx="551.00" cy="366.50" r="1.6" fill="#e3141c"/>
<circle cx="551.00" cy="368.50" r="1.6" fill="#e3141c"/>
<circle cx="551.00" cy="370.50" r="1.6" fill="#e3141c"/>
<circle cx="551.00" cy="372.50" r="1.6" fill="#e3141c"/>
<circle cx="572.50" cy="369.20" r="1.6" fill="#e3141c"/>
<circle cx="572.50" cy="370.85" r="1.6" fill="#e3141c"/>
<circle cx="572.50" cy="372.50" r="1.6" fill="#e3141c"/>
<circle cx="576.50" cy="369.20" r="1.6" fill="#e3141c"/>
<circle cx="576.50" cy="370.85" r="1.6" fill="#e3141c"/>
<circle cx="576.50" cy="372.50" r="1.6" fill="#e3141c"/>
<path d="M392.3 373.5L394.4 375.6L392.3 377.7L390.2 375.6Z" fill="none" stroke="#f0782a" stroke-width="1.0" stroke-linejoin="round"/>
<path d="M427.6 373.5L429.7 375.6L427.6 377.7L425.5 375.6Z" fill="none" stroke="#f0782a" stroke-width="1.0" stroke-linejoin="round"/>
<path d="M435.2 373.5L437.3 375.6L435.2 377.7L433.1 375.6Z" fill="none" stroke="#f0782a" stroke-width="1.0" stroke-linejoin="round"/>
<path d="M457.5 373.5L459.6 375.6L457.5 377.7L455.4 375.6Z" fill="none" stroke="#f0782a" stroke-width="1.0" stroke-linejoin="round"/>
<path d="M469.4 373.5L471.5 375.6L469.4 377.7L467.3 375.6Z" fill="none" stroke="#f0782a" stroke-width="1.0" stroke-linejoin="round"/>
<path d="M496.2 373.5L498.3 375.6L496.2 377.7L494.1 375.6Z" fill="none" stroke="#f0782a" stroke-width="1.0" stroke-linejoin="round"/>
<path d="M501.5 373.5L503.6 375.6L501.5 377.7L499.4 375.6Z" fill="none" stroke="#f0782a" stroke-width="1.0" stroke-linejoin="round"/>
<path d="M516.5 373.5L518.6 375.6L516.5 377.7L514.4 375.6Z" fill="none" stroke="#f0782a" stroke-width="1.0" stroke-linejoin="round"/>
<path d="M521.7 373.5L523.8 375.6L521.7 377.7L519.6 375.6Z" fill="none" stroke="#f0782a" stroke-width="1.0" stroke-linejoin="round"/>
<path d="M543.5 373.5L545.6 375.6L543.5 377.7L541.4 375.6Z" fill="none" stroke="#f0782a" stroke-width="1.0" stroke-linejoin="round"/>
<path d="M546.5 373.5L548.6 375.6L546.5 377.7L544.4 375.6Z" fill="none" stroke="#f0782a" stroke-width="1.0" stroke-linejoin="round"/>
<path d="M549.5 373.5L551.6 375.6L549.5 377.7L547.4 375.6Z" fill="none" stroke="#f0782a" stroke-width="1.0" stroke-linejoin="round"/>
<path d="M570.5 373.5L572.6 375.6L570.5 377.7L568.4 375.6Z" fill="none" stroke="#f0782a" stroke-width="1.0" stroke-linejoin="round"/>
<path d="M573.5 373.5L575.6 375.6L573.5 377.7L571.4 375.6Z" fill="none" stroke="#f0782a" stroke-width="1.0" stroke-linejoin="round"/>
<path d="M577.0 373.5L579.1 375.6L577.0 377.7L574.9 375.6Z" fill="none" stroke="#f0782a" stroke-width="1.0" stroke-linejoin="round"/>
<path d="M612.3 373.5L614.4 375.6L612.3 377.7L610.2 375.6Z" fill="none" stroke="#f0782a" stroke-width="1.0" stroke-linejoin="round"/>
<path d="M621.8 373.5L623.9 375.6L621.8 377.7L619.7 375.6Z" fill="none" stroke="#f0782a" stroke-width="1.0" stroke-linejoin="round"/>
<path d="M648.8 373.5L650.9 375.6L648.8 377.7L646.7 375.6Z" fill="none" stroke="#f0782a" stroke-width="1.0" stroke-linejoin="round"/>
<path d="M649.5 373.5L651.6 375.6L649.5 377.7L647.4 375.6Z" fill="none" stroke="#f0782a" stroke-width="1.0" stroke-linejoin="round"/>
<path d="M665.2 373.5L667.3 375.6L665.2 377.7L663.1 375.6Z" fill="none" stroke="#f0782a" stroke-width="1.0" stroke-linejoin="round"/>
<path d="M668.5 373.5L670.6 375.6L668.5 377.7L666.4 375.6Z" fill="none" stroke="#f0782a" stroke-width="1.0" stroke-linejoin="round"/>
<path d="M401.2 373.5L403.3 375.6L401.2 377.7L399.1 375.6Z" fill="none" stroke="#f8c6a0" stroke-width="1.0" stroke-linejoin="round"/>
<path d="M422.7 373.5L424.8 375.6L422.7 377.7L420.6 375.6Z" fill="none" stroke="#f8c6a0" stroke-width="1.0" stroke-linejoin="round"/>
<path d="M458.8 373.5L460.9 375.6L458.8 377.7L456.7 375.6Z" fill="none" stroke="#f8c6a0" stroke-width="1.0" stroke-linejoin="round"/>
<path d="M492.4 373.5L494.5 375.6L492.4 377.7L490.3 375.6Z" fill="none" stroke="#f8c6a0" stroke-width="1.0" stroke-linejoin="round"/>
<path d="M530.2 373.5L532.3 375.6L530.2 377.7L528.1 375.6Z" fill="none" stroke="#f8c6a0" stroke-width="1.0" stroke-linejoin="round"/>
<path d="M552.0 373.5L554.1 375.6L552.0 377.7L549.9 375.6Z" fill="none" stroke="#f8c6a0" stroke-width="1.0" stroke-linejoin="round"/>
<path d="M560.3 373.5L562.4 375.6L560.3 377.7L558.2 375.6Z" fill="none" stroke="#f8c6a0" stroke-width="1.0" stroke-linejoin="round"/>
<path d="M563.0 373.5L565.1 375.6L563.0 377.7L560.9 375.6Z" fill="none" stroke="#f8c6a0" stroke-width="1.0" stroke-linejoin="round"/>
<path d="M566.0 373.5L568.1 375.6L566.0 377.7L563.9 375.6Z" fill="none" stroke="#f8c6a0" stroke-width="1.0" stroke-linejoin="round"/>
<path d="M569.5 373.5L571.6 375.6L569.5 377.7L567.4 375.6Z" fill="none" stroke="#f8c6a0" stroke-width="1.0" stroke-linejoin="round"/>
<path d="M585.0 373.5L587.1 375.6L585.0 377.7L582.9 375.6Z" fill="none" stroke="#f8c6a0" stroke-width="1.0" stroke-linejoin="round"/>
<path d="M607.0 373.5L609.1 375.6L607.0 377.7L604.9 375.6Z" fill="none" stroke="#f8c6a0" stroke-width="1.0" stroke-linejoin="round"/>
<path d="M616.0 373.5L618.1 375.6L616.0 377.7L613.9 375.6Z" fill="none" stroke="#f8c6a0" stroke-width="1.0" stroke-linejoin="round"/>
<path d="M628.5 373.5L630.6 375.6L628.5 377.7L626.4 375.6Z" fill="none" stroke="#f8c6a0" stroke-width="1.0" stroke-linejoin="round"/>
<path d="M632.0 373.5L634.1 375.6L632.0 377.7L629.9 375.6Z" fill="none" stroke="#f8c6a0" stroke-width="1.0" stroke-linejoin="round"/>
<path d="M635.5 373.5L637.6 375.6L635.5 377.7L633.4 375.6Z" fill="none" stroke="#f8c6a0" stroke-width="1.0" stroke-linejoin="round"/>
<path d="M639.0 373.5L641.1 375.6L639.0 377.7L636.9 375.6Z" fill="none" stroke="#f8c6a0" stroke-width="1.0" stroke-linejoin="round"/>
<path d="M642.0 373.5L644.1 375.6L642.0 377.7L639.9 375.6Z" fill="none" stroke="#f8c6a0" stroke-width="1.0" stroke-linejoin="round"/>
<path d="M636.3 373.5L638.4 375.6L636.3 377.7L634.2 375.6Z" fill="none" stroke="#f8c6a0" stroke-width="1.0" stroke-linejoin="round"/>
<path d="M655.0 373.5L657.1 375.6L655.0 377.7L652.9 375.6Z" fill="none" stroke="#f8c6a0" stroke-width="1.0" stroke-linejoin="round"/>
<path d="M661.2 373.5L663.3 375.6L661.2 377.7L659.1 375.6Z" fill="none" stroke="#f8c6a0" stroke-width="1.0" stroke-linejoin="round"/>
<path d="M677.8 373.5L679.9 375.6L677.8 377.7L675.7 375.6Z" fill="none" stroke="#f8c6a0" stroke-width="1.0" stroke-linejoin="round"/>
<path d="M467.5 376.9 Q468.5 373.3 473 373.2 Q478 373.3 479 376.9Z" fill="#f8c6a0"/>
<path d="M469.5 373.4L471.6 375.5L469.5 377.6L467.4 375.5Z" fill="none" stroke="#f0782a" stroke-width="1.0" stroke-linejoin="round"/>
<path d="M426.7 171.4L428.5 171.4L429.9 177.8L425.3 177.8Z" fill="#34a33a"/>
<path d="M456.5 171.8L458.3 171.8L459.5 177.8L455.3 177.8Z" fill="#34a33a"/>
<path d="M516.7 171.2L518.5 171.2L519.9 178.0L515.3 178.0Z" fill="#34a33a"/>
<path d="M544.7 172.6L546.5 172.6L547.2 177.6L544.0 177.6Z" fill="#34a33a"/>
<path d="M548.7 173.2L550.5 173.2L551.1 177.6L548.1 177.6Z" fill="#34a33a"/>
<path d="M572.7 172.4L574.5 172.4L575.4 177.8L571.8 177.8Z" fill="#34a33a"/>
<path d="M651.1 171.8L652.9 171.8L654.3 177.8L649.7 177.8Z" fill="#34a33a"/>
<path d="M614.5 174.0L616.3 174.0L616.8 177.2L614.0 177.2Z" fill="#34a33a"/>
</svg></body></html>
